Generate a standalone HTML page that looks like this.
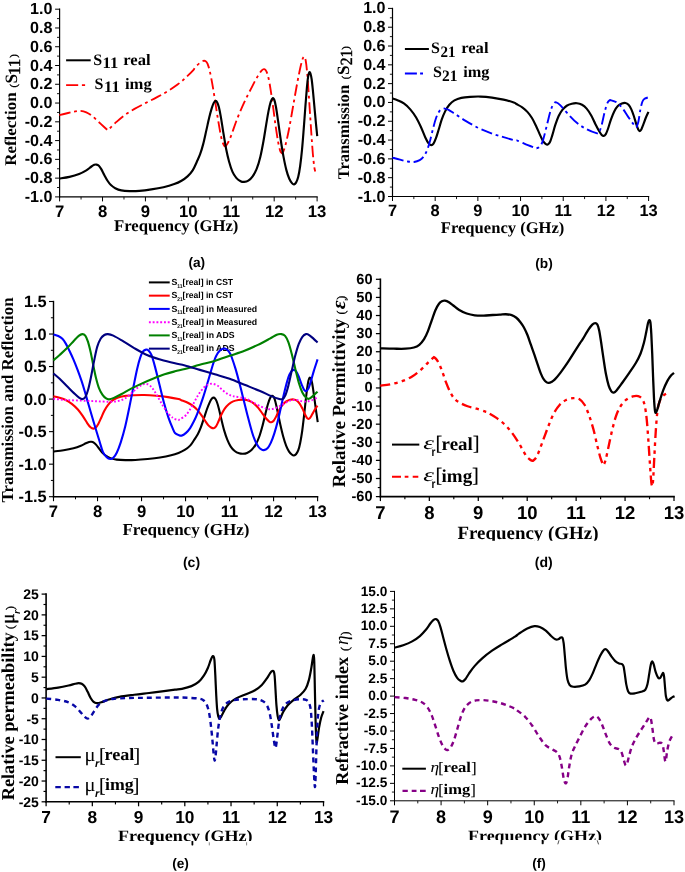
<!DOCTYPE html>
<html><head><meta charset="utf-8"><title>Figure</title>
<style>html,body{margin:0;padding:0;background:#fff}svg{display:block;text-rendering:geometricPrecision;-webkit-font-smoothing:antialiased;will-change:transform}</style></head><body>
<svg width="685" height="872" viewBox="0 0 685 872">
<rect width="685" height="872" fill="#fff"/>
<line x1="59.6" y1="8.6" x2="59.6" y2="197.5" stroke="#000" stroke-width="1.2"/>
<line x1="59" y1="196.9" x2="317.7" y2="196.9" stroke="#000" stroke-width="1.2"/>
<line x1="55.1" y1="9.2" x2="59.6" y2="9.2" stroke="#000" stroke-width="1"/>
<text x="52.4" y="14.2" font-family='"Liberation Sans", sans-serif' font-size="16.1" font-weight="bold" text-anchor="end">1.0</text>
<line x1="57" y1="18.58" x2="59.6" y2="18.58" stroke="#000" stroke-width="0.9"/>
<line x1="55.1" y1="27.97" x2="59.6" y2="27.97" stroke="#000" stroke-width="1"/>
<text x="52.4" y="32.97" font-family='"Liberation Sans", sans-serif' font-size="16.1" font-weight="bold" text-anchor="end">0.8</text>
<line x1="57" y1="37.35" x2="59.6" y2="37.35" stroke="#000" stroke-width="0.9"/>
<line x1="55.1" y1="46.74" x2="59.6" y2="46.74" stroke="#000" stroke-width="1"/>
<text x="52.4" y="51.74" font-family='"Liberation Sans", sans-serif' font-size="16.1" font-weight="bold" text-anchor="end">0.6</text>
<line x1="57" y1="56.12" x2="59.6" y2="56.12" stroke="#000" stroke-width="0.9"/>
<line x1="55.1" y1="65.51" x2="59.6" y2="65.51" stroke="#000" stroke-width="1"/>
<text x="52.4" y="70.51" font-family='"Liberation Sans", sans-serif' font-size="16.1" font-weight="bold" text-anchor="end">0.4</text>
<line x1="57" y1="74.9" x2="59.6" y2="74.9" stroke="#000" stroke-width="0.9"/>
<line x1="55.1" y1="84.28" x2="59.6" y2="84.28" stroke="#000" stroke-width="1"/>
<text x="52.4" y="89.28" font-family='"Liberation Sans", sans-serif' font-size="16.1" font-weight="bold" text-anchor="end">0.2</text>
<line x1="57" y1="93.67" x2="59.6" y2="93.67" stroke="#000" stroke-width="0.9"/>
<line x1="55.1" y1="103.05" x2="59.6" y2="103.05" stroke="#000" stroke-width="1"/>
<text x="52.4" y="108.05" font-family='"Liberation Sans", sans-serif' font-size="16.1" font-weight="bold" text-anchor="end">0.0</text>
<line x1="57" y1="112.44" x2="59.6" y2="112.44" stroke="#000" stroke-width="0.9"/>
<line x1="55.1" y1="121.82" x2="59.6" y2="121.82" stroke="#000" stroke-width="1"/>
<text x="52.4" y="126.82" font-family='"Liberation Sans", sans-serif' font-size="16.1" font-weight="bold" text-anchor="end">-0.2</text>
<line x1="57" y1="131.21" x2="59.6" y2="131.21" stroke="#000" stroke-width="0.9"/>
<line x1="55.1" y1="140.59" x2="59.6" y2="140.59" stroke="#000" stroke-width="1"/>
<text x="52.4" y="145.59" font-family='"Liberation Sans", sans-serif' font-size="16.1" font-weight="bold" text-anchor="end">-0.4</text>
<line x1="57" y1="149.97" x2="59.6" y2="149.97" stroke="#000" stroke-width="0.9"/>
<line x1="55.1" y1="159.36" x2="59.6" y2="159.36" stroke="#000" stroke-width="1"/>
<text x="52.4" y="164.36" font-family='"Liberation Sans", sans-serif' font-size="16.1" font-weight="bold" text-anchor="end">-0.6</text>
<line x1="57" y1="168.75" x2="59.6" y2="168.75" stroke="#000" stroke-width="0.9"/>
<line x1="55.1" y1="178.13" x2="59.6" y2="178.13" stroke="#000" stroke-width="1"/>
<text x="52.4" y="183.13" font-family='"Liberation Sans", sans-serif' font-size="16.1" font-weight="bold" text-anchor="end">-0.8</text>
<line x1="57" y1="187.51" x2="59.6" y2="187.51" stroke="#000" stroke-width="0.9"/>
<line x1="55.1" y1="196.9" x2="59.6" y2="196.9" stroke="#000" stroke-width="1"/>
<text x="52.4" y="201.9" font-family='"Liberation Sans", sans-serif' font-size="16.1" font-weight="bold" text-anchor="end">-1.0</text>
<line x1="59.6" y1="196.9" x2="59.6" y2="201.4" stroke="#000" stroke-width="1"/>
<text x="59.6" y="216.9" font-family='"Liberation Sans", sans-serif' font-size="16.7" font-weight="bold" text-anchor="middle">7</text>
<line x1="81.06" y1="196.9" x2="81.06" y2="199.5" stroke="#000" stroke-width="0.9"/>
<line x1="102.52" y1="196.9" x2="102.52" y2="201.4" stroke="#000" stroke-width="1"/>
<text x="102.52" y="216.9" font-family='"Liberation Sans", sans-serif' font-size="16.7" font-weight="bold" text-anchor="middle">8</text>
<line x1="123.97" y1="196.9" x2="123.97" y2="199.5" stroke="#000" stroke-width="0.9"/>
<line x1="145.43" y1="196.9" x2="145.43" y2="201.4" stroke="#000" stroke-width="1"/>
<text x="145.43" y="216.9" font-family='"Liberation Sans", sans-serif' font-size="16.7" font-weight="bold" text-anchor="middle">9</text>
<line x1="166.89" y1="196.9" x2="166.89" y2="199.5" stroke="#000" stroke-width="0.9"/>
<line x1="188.35" y1="196.9" x2="188.35" y2="201.4" stroke="#000" stroke-width="1"/>
<text x="188.35" y="216.9" font-family='"Liberation Sans", sans-serif' font-size="16.7" font-weight="bold" text-anchor="middle">10</text>
<line x1="209.81" y1="196.9" x2="209.81" y2="199.5" stroke="#000" stroke-width="0.9"/>
<line x1="231.27" y1="196.9" x2="231.27" y2="201.4" stroke="#000" stroke-width="1"/>
<text x="231.27" y="216.9" font-family='"Liberation Sans", sans-serif' font-size="16.7" font-weight="bold" text-anchor="middle">11</text>
<line x1="252.72" y1="196.9" x2="252.72" y2="199.5" stroke="#000" stroke-width="0.9"/>
<line x1="274.18" y1="196.9" x2="274.18" y2="201.4" stroke="#000" stroke-width="1"/>
<text x="274.18" y="216.9" font-family='"Liberation Sans", sans-serif' font-size="16.7" font-weight="bold" text-anchor="middle">12</text>
<line x1="295.64" y1="196.9" x2="295.64" y2="199.5" stroke="#000" stroke-width="0.9"/>
<line x1="317.1" y1="196.9" x2="317.1" y2="201.4" stroke="#000" stroke-width="1"/>
<text x="317.1" y="216.9" font-family='"Liberation Sans", sans-serif' font-size="16.7" font-weight="bold" text-anchor="middle">13</text>
<path d="M59.34 115.18C60.62 114.86 64.56 113.86 67.05 113.25C69.54 112.65 72.07 111.97 74.28 111.57C76.49 111.16 78.29 110.72 80.3 110.84C82.31 110.96 84.32 111.41 86.33 112.29C88.33 113.17 90.34 114.58 92.35 116.14C94.36 117.71 96.37 119.84 98.37 121.69C100.38 123.53 102.87 125.82 104.4 127.23C105.92 128.63 107.01 129.64 107.53 130.12C108.01 129.72 108.94 129.08 110.42 127.71C111.91 126.35 114.04 124.06 116.45 121.93C118.86 119.8 121.87 117.11 124.88 114.94C127.89 112.77 131.1 110.88 134.52 108.92C137.93 106.95 141.75 105.02 145.36 103.13C148.98 101.24 152.59 99.52 156.2 97.59C159.82 95.66 163.43 93.78 167.05 91.57C170.66 89.36 174.68 86.75 177.89 84.34C181.1 81.93 183.71 79.52 186.33 77.11C188.94 74.7 192.14 71.49 193.55 69.88C194.97 68.27 193.81 68.59 194.82 67.47C195.83 66.35 198.23 64.22 199.64 63.13C201.04 62.05 202.25 61.29 203.25 60.96C204.26 60.64 204.94 60.72 205.66 61.2C206.39 61.69 206.91 62.21 207.59 63.86C208.27 65.5 209 67.87 209.76 71.08C210.52 74.3 211.37 78.71 212.17 83.13C212.97 87.55 213.78 92.57 214.58 97.59C215.38 102.61 216.18 108.23 216.99 113.25C217.79 118.27 218.59 123.29 219.4 127.71C220.2 132.13 221 136.75 221.81 139.76C222.61 142.77 223.57 144.7 224.22 145.78C224.86 146.87 225.42 146.18 225.66 146.27C225.98 145.78 226.71 145.06 227.59 143.37C228.47 141.69 229.4 140.16 230.96 136.14C232.53 132.13 234.78 124.9 236.99 119.28C239.2 113.65 241.81 107.63 244.22 102.41C246.63 97.19 249.24 92.25 251.45 87.95C253.65 83.65 255.74 79.56 257.47 76.63C259.2 73.69 260.68 71.61 261.81 70.36C262.93 69.12 263.45 69 264.22 69.16C264.98 69.32 265.66 69.8 266.39 71.33C267.11 72.85 267.83 75.14 268.55 78.31C269.28 81.49 269.96 85.54 270.72 90.36C271.49 95.18 272.33 101.41 273.13 107.23C273.94 113.05 274.74 119.68 275.54 125.3C276.35 130.92 277.19 136.75 277.95 140.96C278.71 145.18 279.48 148.55 280.12 150.6C280.76 152.65 281.53 152.81 281.81 153.25C282.09 152.89 282.81 152.73 283.49 151.08C284.18 149.44 284.94 147.27 285.9 143.37C286.87 139.48 288.07 133.94 289.28 127.71C290.48 121.49 291.85 113.25 293.13 106.02C294.42 98.8 295.78 90.76 296.99 84.34C298.19 77.91 299.4 71.77 300.36 67.47C301.33 63.17 302.13 60.36 302.77 58.55C303.41 56.75 303.98 56.95 304.22 56.63C304.46 57.23 305.18 57.63 305.66 60.24C306.14 62.85 306.63 67.07 307.11 72.29C307.59 77.51 308.07 84.74 308.55 91.57C309.04 98.39 309.52 106.02 310 113.25C310.48 120.48 310.96 128.11 311.45 134.94C311.93 141.77 312.41 148.8 312.89 154.22C313.37 159.64 313.94 164.58 314.34 167.47C314.74 170.36 315.14 170.88 315.3 171.57" fill="none" stroke="#ff0000" stroke-width="1.85" stroke-linejoin="round" stroke-dasharray="11.4 3.7 2.8 3.8"/>
<path d="M59.34 178.55C61.02 178.27 66.16 177.63 69.46 176.87C72.75 176.1 76.29 175.06 79.1 173.98C81.91 172.89 84.32 171.57 86.33 170.36C88.33 169.16 89.82 167.67 91.14 166.75C92.47 165.82 93.39 165.18 94.28 164.82C95.16 164.46 95.68 164.42 96.45 164.58C97.21 164.74 98.05 165.02 98.86 165.78C99.66 166.55 100.34 167.59 101.27 169.16C102.19 170.72 103.35 173.25 104.4 175.18C105.44 177.11 106.45 179.08 107.53 180.72C108.61 182.37 109.62 183.82 110.9 185.06C112.19 186.31 113.51 187.31 115.24 188.19C116.97 189.08 118.86 189.88 121.27 190.36C123.67 190.84 126.69 191 129.7 191.08C132.71 191.16 135.72 191.12 139.34 190.84C142.95 190.56 147.37 190 151.39 189.4C155.4 188.8 159.62 188.11 163.43 187.23C167.25 186.35 171.27 185.18 174.28 184.1C177.29 183.01 179.3 182.01 181.51 180.72C183.71 179.44 185.64 178.15 187.53 176.39C189.42 174.62 191.3 172.53 192.83 170.12C194.37 167.71 195.53 164.58 196.75 161.93C197.96 159.28 199.04 157.23 200.12 154.22C201.2 151.2 202.21 147.87 203.25 143.86C204.3 139.84 205.38 134.54 206.39 130.12C207.39 125.7 208.39 120.96 209.28 117.35C210.16 113.73 210.96 110.8 211.69 108.43C212.41 106.06 212.97 104.38 213.61 103.13C214.26 101.89 214.94 101.08 215.54 100.96C216.14 100.84 216.67 101.37 217.23 102.41C217.79 103.45 218.31 104.82 218.92 107.23C219.52 109.64 220.12 112.73 220.84 116.87C221.57 121 222.37 126.71 223.25 132.05C224.14 137.39 225.18 144.02 226.14 148.92C227.11 153.82 227.99 157.67 229.04 161.45C230.08 165.22 231.2 168.84 232.41 171.57C233.61 174.3 234.9 176.22 236.27 177.83C237.63 179.44 239.28 180.52 240.6 181.2C241.93 181.89 242.93 182.01 244.22 181.93C245.5 181.85 246.91 181.65 248.31 180.72C249.72 179.8 251.24 178.39 252.65 176.39C254.06 174.38 255.46 171.97 256.75 168.67C258.03 165.38 259.24 161.24 260.36 156.63C261.49 152.01 262.53 146.27 263.49 140.96C264.46 135.66 265.3 129.84 266.14 124.82C266.99 119.8 267.79 114.66 268.55 110.84C269.32 107.03 270.04 104.02 270.72 101.93C271.41 99.84 272.05 98.63 272.65 98.31C273.25 97.99 273.78 98.51 274.34 100C274.9 101.49 275.38 103.61 276.02 107.23C276.67 110.84 277.39 116.14 278.19 121.69C279 127.23 279.96 134.66 280.84 140.48C281.73 146.31 282.57 151.69 283.49 156.63C284.42 161.57 285.42 166.43 286.39 170.12C287.35 173.82 288.31 176.59 289.28 178.8C290.24 181 291.37 182.45 292.17 183.37C292.97 184.3 293.45 184.46 294.1 184.34C294.74 184.22 295.34 183.86 296.02 182.65C296.71 181.45 297.51 179.84 298.19 177.11C298.88 174.38 299.48 170.88 300.12 166.27C300.76 161.65 301.45 155.62 302.05 149.4C302.65 143.17 303.17 136.14 303.73 128.92C304.3 121.69 304.9 112.85 305.42 106.02C305.94 99.2 306.43 92.77 306.87 87.95C307.31 83.13 307.67 79.72 308.07 77.11C308.47 74.5 308.88 72.89 309.28 72.29C309.68 71.69 310.08 72.29 310.48 73.49C310.88 74.7 311.29 76.71 311.69 79.52C312.09 82.33 312.45 85.94 312.89 90.36C313.33 94.78 313.86 100.8 314.34 106.02C314.82 111.24 315.3 116.67 315.78 121.69C316.27 126.71 316.99 133.73 317.23 136.14" fill="none" stroke="#000" stroke-width="2.15" stroke-linejoin="round"/>
<g transform="translate(16.1 165.8) rotate(-90)">
<text x="0" y="0" font-family='"Liberation Serif", serif' font-size="16.3" font-weight="bold" textLength="73.4" lengthAdjust="spacingAndGlyphs">Reflection</text>
<text x="78.4" y="0.5" font-family='"Liberation Serif", serif' font-size="10.5" font-weight="normal" stroke="#000" stroke-width="0.3">(</text>
<text x="82.2" y="0.5" font-family='"Liberation Serif", serif' font-size="17.3" font-weight="bold">S</text>
<text x="90.8" y="3.7" font-family='"Liberation Serif", serif' font-size="17" font-weight="normal" stroke="#000" stroke-width="0.4">11</text>
<text x="108" y="0.5" font-family='"Liberation Serif", serif' font-size="10.5" font-weight="normal" stroke="#000" stroke-width="0.3">)</text>
</g>
<text x="176.2" y="231.4" font-family='"Liberation Serif", serif' font-size="16.3" font-weight="bold" text-anchor="middle" textLength="124.5" lengthAdjust="spacingAndGlyphs">Frequency (GHz)</text>
<text x="196.8" y="267.1" font-family='"Liberation Sans", sans-serif' font-size="13.7" font-weight="bold" text-anchor="middle">(a)</text>
<line x1="66.1" y1="60.3" x2="90.7" y2="60.3" stroke="#000" stroke-width="2"/>
<text x="93.2" y="64.7" font-family='"Liberation Serif", serif' font-size="16" font-weight="bold">S</text>
<text x="102.6" y="68.1" font-family='"Liberation Serif", serif' font-size="16" font-weight="bold" textLength="15.6" lengthAdjust="spacingAndGlyphs">11</text>
<text x="123.3" y="64.7" font-family='"Liberation Serif", serif' font-size="16" font-weight="bold" textLength="27.3" lengthAdjust="spacingAndGlyphs">real</text>
<path d="M66.1 85.1H78.2M81.9 85.1H85.1" stroke="#ff0000" stroke-width="1.9" fill="none"/>
<text x="94.6" y="89.1" font-family='"Liberation Serif", serif' font-size="16" font-weight="bold">S</text>
<text x="104.1" y="92.4" font-family='"Liberation Serif", serif' font-size="16" font-weight="bold" textLength="15.6" lengthAdjust="spacingAndGlyphs">11</text>
<text x="125" y="89.1" font-family='"Liberation Serif", serif' font-size="16" font-weight="bold" textLength="26.8" lengthAdjust="spacingAndGlyphs">img</text>
<line x1="392.5" y1="7.8" x2="392.5" y2="197.1" stroke="#000" stroke-width="1.2"/>
<line x1="391.9" y1="196.5" x2="649.2" y2="196.5" stroke="#000" stroke-width="1.2"/>
<line x1="388" y1="8.4" x2="392.5" y2="8.4" stroke="#000" stroke-width="1"/>
<text x="385.5" y="13.4" font-family='"Liberation Sans", sans-serif' font-size="16.1" font-weight="bold" text-anchor="end">1.0</text>
<line x1="389.9" y1="17.8" x2="392.5" y2="17.8" stroke="#000" stroke-width="0.9"/>
<line x1="388" y1="27.21" x2="392.5" y2="27.21" stroke="#000" stroke-width="1"/>
<text x="385.5" y="32.21" font-family='"Liberation Sans", sans-serif' font-size="16.1" font-weight="bold" text-anchor="end">0.8</text>
<line x1="389.9" y1="36.61" x2="392.5" y2="36.61" stroke="#000" stroke-width="0.9"/>
<line x1="388" y1="46.02" x2="392.5" y2="46.02" stroke="#000" stroke-width="1"/>
<text x="385.5" y="51.02" font-family='"Liberation Sans", sans-serif' font-size="16.1" font-weight="bold" text-anchor="end">0.6</text>
<line x1="389.9" y1="55.42" x2="392.5" y2="55.42" stroke="#000" stroke-width="0.9"/>
<line x1="388" y1="64.83" x2="392.5" y2="64.83" stroke="#000" stroke-width="1"/>
<text x="385.5" y="69.83" font-family='"Liberation Sans", sans-serif' font-size="16.1" font-weight="bold" text-anchor="end">0.4</text>
<line x1="389.9" y1="74.24" x2="392.5" y2="74.24" stroke="#000" stroke-width="0.9"/>
<line x1="388" y1="83.64" x2="392.5" y2="83.64" stroke="#000" stroke-width="1"/>
<text x="385.5" y="88.64" font-family='"Liberation Sans", sans-serif' font-size="16.1" font-weight="bold" text-anchor="end">0.2</text>
<line x1="389.9" y1="93.05" x2="392.5" y2="93.05" stroke="#000" stroke-width="0.9"/>
<line x1="388" y1="102.45" x2="392.5" y2="102.45" stroke="#000" stroke-width="1"/>
<text x="385.5" y="107.45" font-family='"Liberation Sans", sans-serif' font-size="16.1" font-weight="bold" text-anchor="end">0.0</text>
<line x1="389.9" y1="111.86" x2="392.5" y2="111.86" stroke="#000" stroke-width="0.9"/>
<line x1="388" y1="121.26" x2="392.5" y2="121.26" stroke="#000" stroke-width="1"/>
<text x="385.5" y="126.26" font-family='"Liberation Sans", sans-serif' font-size="16.1" font-weight="bold" text-anchor="end">-0.2</text>
<line x1="389.9" y1="130.67" x2="392.5" y2="130.67" stroke="#000" stroke-width="0.9"/>
<line x1="388" y1="140.07" x2="392.5" y2="140.07" stroke="#000" stroke-width="1"/>
<text x="385.5" y="145.07" font-family='"Liberation Sans", sans-serif' font-size="16.1" font-weight="bold" text-anchor="end">-0.4</text>
<line x1="389.9" y1="149.47" x2="392.5" y2="149.47" stroke="#000" stroke-width="0.9"/>
<line x1="388" y1="158.88" x2="392.5" y2="158.88" stroke="#000" stroke-width="1"/>
<text x="385.5" y="163.88" font-family='"Liberation Sans", sans-serif' font-size="16.1" font-weight="bold" text-anchor="end">-0.6</text>
<line x1="389.9" y1="168.29" x2="392.5" y2="168.29" stroke="#000" stroke-width="0.9"/>
<line x1="388" y1="177.69" x2="392.5" y2="177.69" stroke="#000" stroke-width="1"/>
<text x="385.5" y="182.69" font-family='"Liberation Sans", sans-serif' font-size="16.1" font-weight="bold" text-anchor="end">-0.8</text>
<line x1="389.9" y1="187.09" x2="392.5" y2="187.09" stroke="#000" stroke-width="0.9"/>
<line x1="388" y1="196.5" x2="392.5" y2="196.5" stroke="#000" stroke-width="1"/>
<text x="385.5" y="201.5" font-family='"Liberation Sans", sans-serif' font-size="16.1" font-weight="bold" text-anchor="end">-1.0</text>
<line x1="392.5" y1="196.5" x2="392.5" y2="201" stroke="#000" stroke-width="1"/>
<text x="392.5" y="216" font-family='"Liberation Sans", sans-serif' font-size="16.4" font-weight="bold" text-anchor="middle">7</text>
<line x1="413.84" y1="196.5" x2="413.84" y2="199.1" stroke="#000" stroke-width="0.9"/>
<line x1="435.18" y1="196.5" x2="435.18" y2="201" stroke="#000" stroke-width="1"/>
<text x="435.18" y="216" font-family='"Liberation Sans", sans-serif' font-size="16.4" font-weight="bold" text-anchor="middle">8</text>
<line x1="456.52" y1="196.5" x2="456.52" y2="199.1" stroke="#000" stroke-width="0.9"/>
<line x1="477.87" y1="196.5" x2="477.87" y2="201" stroke="#000" stroke-width="1"/>
<text x="477.87" y="216" font-family='"Liberation Sans", sans-serif' font-size="16.4" font-weight="bold" text-anchor="middle">9</text>
<line x1="499.21" y1="196.5" x2="499.21" y2="199.1" stroke="#000" stroke-width="0.9"/>
<line x1="520.55" y1="196.5" x2="520.55" y2="201" stroke="#000" stroke-width="1"/>
<text x="520.55" y="216" font-family='"Liberation Sans", sans-serif' font-size="16.4" font-weight="bold" text-anchor="middle">10</text>
<line x1="541.89" y1="196.5" x2="541.89" y2="199.1" stroke="#000" stroke-width="0.9"/>
<line x1="563.23" y1="196.5" x2="563.23" y2="201" stroke="#000" stroke-width="1"/>
<text x="563.23" y="216" font-family='"Liberation Sans", sans-serif' font-size="16.4" font-weight="bold" text-anchor="middle">11</text>
<line x1="584.58" y1="196.5" x2="584.58" y2="199.1" stroke="#000" stroke-width="0.9"/>
<line x1="605.92" y1="196.5" x2="605.92" y2="201" stroke="#000" stroke-width="1"/>
<text x="605.92" y="216" font-family='"Liberation Sans", sans-serif' font-size="16.4" font-weight="bold" text-anchor="middle">12</text>
<line x1="627.26" y1="196.5" x2="627.26" y2="199.1" stroke="#000" stroke-width="0.9"/>
<line x1="648.6" y1="196.5" x2="648.6" y2="201" stroke="#000" stroke-width="1"/>
<text x="648.6" y="216" font-family='"Liberation Sans", sans-serif' font-size="16.4" font-weight="bold" text-anchor="middle">13</text>
<path d="M392.37 98.36C393.22 98.66 395.57 99.29 397.48 100.15C399.4 101 401.74 101.93 403.87 103.47C406 105 408.21 107 410.26 109.34C412.3 111.68 414.3 114.45 416.13 117.52C417.96 120.58 419.71 124.42 421.24 127.74C422.77 131.06 424.14 134.89 425.33 137.45C426.52 140 427.41 141.79 428.39 143.07C429.37 144.34 430.35 145.02 431.2 145.11C432.06 145.19 432.69 144.77 433.5 143.58C434.31 142.38 435.16 140.38 436.06 137.96C436.95 135.53 437.93 132.08 438.87 129.01C439.81 125.95 440.61 122.54 441.68 119.56C442.74 116.58 443.98 113.6 445.26 111.13C446.53 108.66 447.81 106.53 449.34 104.74C450.88 102.96 452.45 101.55 454.45 100.4C456.45 99.25 458.71 98.44 461.35 97.85C463.99 97.25 467.1 97.04 470.29 96.82C473.49 96.61 476.89 96.44 480.51 96.57C484.13 96.7 488.18 97.08 492.01 97.59C495.84 98.1 499.88 98.83 503.5 99.64C507.12 100.44 511.58 101.72 513.72 102.45C515.87 103.17 514.96 103.17 516.39 103.98C517.81 104.79 520.43 105.98 522.26 107.3C524.09 108.62 525.75 110.11 527.37 111.9C528.99 113.69 530.52 115.69 531.97 118.03C533.42 120.37 534.78 123.27 536.06 125.95C537.34 128.63 538.53 131.7 539.64 134.12C540.74 136.55 541.76 138.94 542.7 140.51C543.64 142.09 544.4 142.9 545.26 143.58C546.11 144.26 547 144.9 547.81 144.6C548.62 144.3 549.34 143.41 550.11 141.79C550.88 140.17 551.56 137.66 552.41 134.89C553.26 132.12 554.2 128.29 555.22 125.18C556.24 122.07 557.35 118.8 558.54 116.24C559.73 113.69 561.01 111.6 562.37 109.85C563.73 108.11 565.14 106.79 566.72 105.77C568.29 104.74 570.12 104.15 571.82 103.72C573.53 103.3 575.23 103.04 576.93 103.21C578.64 103.38 580.43 103.85 582.04 104.74C583.66 105.64 585.11 106.79 586.64 108.58C588.18 110.36 589.79 112.92 591.24 115.47C592.69 118.03 594.05 121.35 595.33 123.91C596.61 126.46 597.84 128.97 598.91 130.8C599.97 132.63 600.91 134.04 601.72 134.89C602.52 135.74 603.08 136.04 603.76 135.91C604.44 135.78 605.08 135.36 605.8 134.12C606.53 132.89 607.25 130.93 608.1 128.5C608.95 126.08 609.89 122.41 610.91 119.56C611.93 116.71 613.08 113.64 614.23 111.39C615.38 109.13 616.53 107.34 617.81 106.02C619.09 104.7 620.62 103.98 621.9 103.47C623.18 102.96 624.37 102.74 625.47 102.96C626.58 103.17 627.56 103.68 628.54 104.74C629.52 105.81 630.46 107.43 631.35 109.34C632.24 111.26 633.1 113.81 633.91 116.24C634.71 118.67 635.48 121.69 636.2 123.91C636.93 126.12 637.65 128.33 638.25 129.53C638.84 130.72 639.27 131.06 639.78 131.06C640.29 131.06 640.72 130.63 641.31 129.53C641.91 128.42 642.59 126.42 643.36 124.42C644.12 122.41 645.06 119.6 645.91 117.52C646.76 115.43 648.04 112.83 648.47 111.9" fill="none" stroke="#000" stroke-width="2.15" stroke-linejoin="round"/>
<path d="M392.37 157.63C393.65 157.97 397.48 159.03 400.04 159.67C402.59 160.31 405.36 161.08 407.7 161.46C410.04 161.84 412.09 162.18 414.09 161.97C416.09 161.76 418.09 161.12 419.71 160.18C421.33 159.25 422.52 158.14 423.8 156.35C425.07 154.56 426.27 152.31 427.37 149.45C428.48 146.6 429.46 142.85 430.44 139.23C431.42 135.61 432.31 131.27 433.25 127.74C434.18 124.2 435.12 120.67 436.06 118.03C437 115.39 437.93 113.35 438.87 111.9C439.81 110.45 440.7 109.9 441.68 109.34C442.66 108.79 443.59 108.49 444.74 108.58C445.89 108.66 446.87 108.96 448.58 109.85C450.28 110.75 452.2 112.15 454.96 113.94C457.73 115.73 461.35 118.28 465.18 120.58C469.01 122.88 473.7 125.65 477.96 127.74C482.21 129.82 486.47 131.53 490.73 133.1C494.99 134.68 499.46 135.95 503.5 137.19C507.55 138.42 512.58 139.91 515 140.51C517.42 141.11 515.86 140.03 518 140.8C520.14 141.57 524.73 143.89 527.85 145.14C530.97 146.39 535.24 147.77 536.72 148.29C537.31 147.93 539.19 147.6 540.27 146.12C541.35 144.65 542.08 143.1 543.23 139.42C544.38 135.74 545.92 128.91 547.17 124.05C548.42 119.19 549.6 113.67 550.72 110.26C551.83 106.84 552.95 104.87 553.87 103.55C554.79 102.24 555.18 102.11 556.23 102.37C557.28 102.64 558.34 103.32 560.18 105.13C562.01 106.94 564.45 110.22 567.27 113.21C570.09 116.2 573.84 120.37 577.12 123.07C580.41 125.76 583.76 127.7 586.98 129.37C590.2 131.05 594.43 132.53 596.44 133.12C598.44 133.71 598.57 132.95 599 132.92C599.43 131.67 600.64 128.81 601.56 125.43C602.48 122.05 603.53 116.4 604.52 112.62C605.5 108.84 606.55 104.87 607.47 102.77C608.39 100.66 609.61 100.47 610.04 100.01C611.12 100.4 614.47 100.99 616.54 102.37C618.61 103.75 620.48 105.82 622.45 108.28C624.42 110.75 626.46 114.43 628.36 117.15C630.27 119.88 632.5 123 633.88 124.64C635.26 126.28 636.18 126.61 636.64 127.01C636.94 126.09 637.79 124.38 638.42 121.49C639.04 118.6 639.73 112.95 640.39 109.66C641.04 106.38 641.67 103.59 642.36 101.78C643.05 99.97 643.41 99.61 644.53 98.82C645.64 98.04 648.3 97.35 649.06 97.05" fill="none" stroke="#0000ff" stroke-width="1.9" stroke-linejoin="round" stroke-dasharray="11.4 3.7 2.8 3.8"/>
<g transform="translate(348.7 179.3) rotate(-90)">
<text x="0" y="0" font-family='"Liberation Serif", serif' font-size="16.3" font-weight="bold" textLength="94.4" lengthAdjust="spacingAndGlyphs">Transmission</text>
<text x="100" y="0.5" font-family='"Liberation Serif", serif' font-size="10.5" font-weight="normal" stroke="#000" stroke-width="0.3">(</text>
<text x="104.2" y="0.5" font-family='"Liberation Serif", serif' font-size="17.3" font-weight="bold">S</text>
<text x="114" y="3.7" font-family='"Liberation Serif", serif' font-size="17" font-weight="normal" textLength="15.6" lengthAdjust="spacingAndGlyphs" stroke="#000" stroke-width="0.4">21</text>
<text x="129.6" y="0.5" font-family='"Liberation Serif", serif' font-size="10.5" font-weight="normal" stroke="#000" stroke-width="0.3">)</text>
</g>
<text x="502.6" y="232.9" font-family='"Liberation Serif", serif' font-size="16.3" font-weight="bold" text-anchor="middle" textLength="123.6" lengthAdjust="spacingAndGlyphs">Frequency (GHz)</text>
<text x="544" y="268" font-family='"Liberation Sans", sans-serif' font-size="13.7" font-weight="bold" text-anchor="middle">(b)</text>
<line x1="404.9" y1="49" x2="428.9" y2="49" stroke="#000" stroke-width="2"/>
<text x="431.1" y="53.1" font-family='"Liberation Serif", serif' font-size="16" font-weight="bold">S</text>
<text x="440.6" y="56.6" font-family='"Liberation Serif", serif' font-size="16" font-weight="bold" textLength="15" lengthAdjust="spacingAndGlyphs">21</text>
<text x="461.2" y="53.1" font-family='"Liberation Serif", serif' font-size="16" font-weight="bold" textLength="27.3" lengthAdjust="spacingAndGlyphs">real</text>
<path d="M404.9 73.5H416.9M420.1 73.5H423" stroke="#0000ff" stroke-width="1.9" fill="none"/>
<text x="433" y="77.4" font-family='"Liberation Serif", serif' font-size="16" font-weight="bold">S</text>
<text x="442" y="81.1" font-family='"Liberation Serif", serif' font-size="16" font-weight="bold" textLength="15.4" lengthAdjust="spacingAndGlyphs">21</text>
<text x="463.3" y="77.4" font-family='"Liberation Serif", serif' font-size="16" font-weight="bold" textLength="26.2" lengthAdjust="spacingAndGlyphs">img</text>
<line x1="53.5" y1="300.8" x2="53.5" y2="497.4" stroke="#000" stroke-width="1.4"/>
<line x1="52.8" y1="496.7" x2="318.3" y2="496.7" stroke="#000" stroke-width="1.4"/>
<line x1="49" y1="301.5" x2="53.5" y2="301.5" stroke="#000" stroke-width="1.1"/>
<text x="46.7" y="307.1" font-family='"Liberation Sans", sans-serif' font-size="16.4" font-weight="bold" text-anchor="end">1.5</text>
<line x1="50.9" y1="317.77" x2="53.5" y2="317.77" stroke="#000" stroke-width="1"/>
<line x1="49" y1="334.03" x2="53.5" y2="334.03" stroke="#000" stroke-width="1.1"/>
<text x="46.7" y="339.64" font-family='"Liberation Sans", sans-serif' font-size="16.4" font-weight="bold" text-anchor="end">1.0</text>
<line x1="50.9" y1="350.3" x2="53.5" y2="350.3" stroke="#000" stroke-width="1"/>
<line x1="49" y1="366.57" x2="53.5" y2="366.57" stroke="#000" stroke-width="1.1"/>
<text x="46.7" y="372.17" font-family='"Liberation Sans", sans-serif' font-size="16.4" font-weight="bold" text-anchor="end">0.5</text>
<line x1="50.9" y1="382.83" x2="53.5" y2="382.83" stroke="#000" stroke-width="1"/>
<line x1="49" y1="399.1" x2="53.5" y2="399.1" stroke="#000" stroke-width="1.1"/>
<text x="46.7" y="404.7" font-family='"Liberation Sans", sans-serif' font-size="16.4" font-weight="bold" text-anchor="end">0.0</text>
<line x1="50.9" y1="415.37" x2="53.5" y2="415.37" stroke="#000" stroke-width="1"/>
<line x1="49" y1="431.63" x2="53.5" y2="431.63" stroke="#000" stroke-width="1.1"/>
<text x="46.7" y="437.24" font-family='"Liberation Sans", sans-serif' font-size="16.4" font-weight="bold" text-anchor="end">-0.5</text>
<line x1="50.9" y1="447.9" x2="53.5" y2="447.9" stroke="#000" stroke-width="1"/>
<line x1="49" y1="464.17" x2="53.5" y2="464.17" stroke="#000" stroke-width="1.1"/>
<text x="46.7" y="469.77" font-family='"Liberation Sans", sans-serif' font-size="16.4" font-weight="bold" text-anchor="end">-1.0</text>
<line x1="50.9" y1="480.43" x2="53.5" y2="480.43" stroke="#000" stroke-width="1"/>
<line x1="49" y1="496.7" x2="53.5" y2="496.7" stroke="#000" stroke-width="1.1"/>
<text x="46.7" y="502.3" font-family='"Liberation Sans", sans-serif' font-size="16.4" font-weight="bold" text-anchor="end">-1.5</text>
<line x1="53.5" y1="496.7" x2="53.5" y2="501.2" stroke="#000" stroke-width="1.1"/>
<text x="53.5" y="516.8" font-family='"Liberation Sans", sans-serif' font-size="16.7" font-weight="bold" text-anchor="middle">7</text>
<line x1="75.51" y1="496.7" x2="75.51" y2="499.3" stroke="#000" stroke-width="1"/>
<line x1="97.52" y1="496.7" x2="97.52" y2="501.2" stroke="#000" stroke-width="1.1"/>
<text x="97.52" y="516.8" font-family='"Liberation Sans", sans-serif' font-size="16.7" font-weight="bold" text-anchor="middle">8</text>
<line x1="119.53" y1="496.7" x2="119.53" y2="499.3" stroke="#000" stroke-width="1"/>
<line x1="141.53" y1="496.7" x2="141.53" y2="501.2" stroke="#000" stroke-width="1.1"/>
<text x="141.53" y="516.8" font-family='"Liberation Sans", sans-serif' font-size="16.7" font-weight="bold" text-anchor="middle">9</text>
<line x1="163.54" y1="496.7" x2="163.54" y2="499.3" stroke="#000" stroke-width="1"/>
<line x1="185.55" y1="496.7" x2="185.55" y2="501.2" stroke="#000" stroke-width="1.1"/>
<text x="185.55" y="516.8" font-family='"Liberation Sans", sans-serif' font-size="16.7" font-weight="bold" text-anchor="middle">10</text>
<line x1="207.56" y1="496.7" x2="207.56" y2="499.3" stroke="#000" stroke-width="1"/>
<line x1="229.57" y1="496.7" x2="229.57" y2="501.2" stroke="#000" stroke-width="1.1"/>
<text x="229.57" y="516.8" font-family='"Liberation Sans", sans-serif' font-size="16.7" font-weight="bold" text-anchor="middle">11</text>
<line x1="251.58" y1="496.7" x2="251.58" y2="499.3" stroke="#000" stroke-width="1"/>
<line x1="273.58" y1="496.7" x2="273.58" y2="501.2" stroke="#000" stroke-width="1.1"/>
<text x="273.58" y="516.8" font-family='"Liberation Sans", sans-serif' font-size="16.7" font-weight="bold" text-anchor="middle">12</text>
<line x1="295.59" y1="496.7" x2="295.59" y2="499.3" stroke="#000" stroke-width="1"/>
<line x1="317.6" y1="496.7" x2="317.6" y2="501.2" stroke="#000" stroke-width="1.1"/>
<text x="317.6" y="516.8" font-family='"Liberation Sans", sans-serif' font-size="16.7" font-weight="bold" text-anchor="middle">13</text>
<g transform="translate(13.1 502.4) rotate(-90)">
<text x="0" y="0" font-family='"Liberation Serif", serif' font-size="16.7" font-weight="bold" textLength="205" lengthAdjust="spacingAndGlyphs">Transmission and Reflection</text>
</g>
<clipPath id="cc"><rect x="100" y="515" width="180" height="22.7"/></clipPath>
<text x="185.9" y="534.5" font-family='"Liberation Serif", serif' font-size="16.8" font-weight="bold" text-anchor="middle" textLength="127" lengthAdjust="spacingAndGlyphs" clip-path="url(#cc)">Frequency (GHz)</text>
<text x="191.5" y="566.6" font-family='"Liberation Sans", sans-serif' font-size="14" font-weight="bold" text-anchor="middle">(c)</text>
<path d="M148.9 282.4H169.7" stroke="#000" stroke-width="2.0" fill="none"/>
<text x="171.4" y="285.2" font-family='"Liberation Sans", sans-serif' font-size="8.8" font-weight="bold">S</text>
<text x="177.3" y="287.9" font-family='"Liberation Sans", sans-serif' font-size="5.5" font-weight="bold" textLength="5.4" lengthAdjust="spacingAndGlyphs">11</text>
<text x="182.6" y="285.2" font-family='"Liberation Sans", sans-serif' font-size="8.8" font-weight="bold" textLength="50.5" lengthAdjust="spacingAndGlyphs">[real] in CST</text>
<path d="M148.9 295.65H169.7" stroke="#ff0000" stroke-width="2.0" fill="none"/>
<text x="171.4" y="298.45" font-family='"Liberation Sans", sans-serif' font-size="8.8" font-weight="bold">S</text>
<text x="177.3" y="301.15" font-family='"Liberation Sans", sans-serif' font-size="5.5" font-weight="bold" textLength="5.4" lengthAdjust="spacingAndGlyphs">21</text>
<text x="182.6" y="298.45" font-family='"Liberation Sans", sans-serif' font-size="8.8" font-weight="bold" textLength="50.5" lengthAdjust="spacingAndGlyphs">[real] in CST</text>
<path d="M148.9 308.9H169.7" stroke="#0000ff" stroke-width="2.0" fill="none"/>
<text x="171.4" y="311.7" font-family='"Liberation Sans", sans-serif' font-size="8.8" font-weight="bold">S</text>
<text x="177.3" y="314.4" font-family='"Liberation Sans", sans-serif' font-size="5.5" font-weight="bold" textLength="5.4" lengthAdjust="spacingAndGlyphs">11</text>
<text x="182.6" y="311.7" font-family='"Liberation Sans", sans-serif' font-size="8.8" font-weight="bold" textLength="74.6" lengthAdjust="spacingAndGlyphs">[real] in Measured</text>
<path d="M148.9 322.15H169.7" stroke="#ff00ff" stroke-width="2.0" fill="none" stroke-dasharray="1.9 1.87"/>
<text x="171.4" y="324.95" font-family='"Liberation Sans", sans-serif' font-size="8.8" font-weight="bold">S</text>
<text x="177.3" y="327.65" font-family='"Liberation Sans", sans-serif' font-size="5.5" font-weight="bold" textLength="5.4" lengthAdjust="spacingAndGlyphs">21</text>
<text x="182.6" y="324.95" font-family='"Liberation Sans", sans-serif' font-size="8.8" font-weight="bold" textLength="74.6" lengthAdjust="spacingAndGlyphs">[real] in Measured</text>
<path d="M148.9 335.4H169.7" stroke="#008000" stroke-width="2.0" fill="none"/>
<text x="171.4" y="338.2" font-family='"Liberation Sans", sans-serif' font-size="8.8" font-weight="bold">S</text>
<text x="177.3" y="340.9" font-family='"Liberation Sans", sans-serif' font-size="5.5" font-weight="bold" textLength="5.4" lengthAdjust="spacingAndGlyphs">11</text>
<text x="182.6" y="338.2" font-family='"Liberation Sans", sans-serif' font-size="8.8" font-weight="bold" textLength="51.9" lengthAdjust="spacingAndGlyphs">[real] in ADS</text>
<path d="M148.9 348.65H169.7" stroke="#000080" stroke-width="2.0" fill="none"/>
<text x="171.4" y="351.45" font-family='"Liberation Sans", sans-serif' font-size="8.8" font-weight="bold">S</text>
<text x="177.3" y="354.15" font-family='"Liberation Sans", sans-serif' font-size="5.5" font-weight="bold" textLength="5.4" lengthAdjust="spacingAndGlyphs">21</text>
<text x="182.6" y="351.45" font-family='"Liberation Sans", sans-serif' font-size="8.8" font-weight="bold" textLength="51.9" lengthAdjust="spacingAndGlyphs">[real] in ADS</text>
<path d="M53.23 451.45C54.96 451.25 60.23 450.81 63.61 450.28C66.99 449.75 70.61 449.03 73.5 448.27C76.38 447.52 78.85 446.6 80.91 445.77C82.97 444.93 84.49 443.9 85.85 443.26C87.21 442.62 88.16 442.18 89.07 441.92C89.97 441.67 90.51 441.65 91.29 441.76C92.07 441.87 92.94 442.06 93.76 442.59C94.59 443.12 95.29 443.85 96.23 444.93C97.18 446.02 98.37 447.77 99.45 449.11C100.52 450.45 101.55 451.81 102.66 452.95C103.77 454.09 104.8 455.09 106.12 455.96C107.44 456.82 108.8 457.52 110.57 458.13C112.34 458.74 114.27 459.3 116.75 459.63C119.22 459.97 122.31 460.08 125.4 460.13C128.48 460.19 131.57 460.16 135.28 459.97C138.99 459.77 143.52 459.38 147.64 458.97C151.76 458.55 156.08 458.07 160 457.46C163.91 456.85 168.03 456.04 171.12 455.29C174.21 454.54 176.27 453.84 178.53 452.95C180.8 452.06 182.77 451.17 184.71 449.94C186.65 448.72 188.57 447.27 190.15 445.6C191.72 443.93 192.92 441.76 194.16 439.92C195.41 438.08 196.51 436.66 197.62 434.57C198.73 432.49 199.76 430.17 200.83 427.39C201.91 424.61 203.02 420.93 204.05 417.87C205.08 414.81 206.11 411.52 207.01 409.01C207.92 406.51 208.74 404.48 209.48 402.83C210.23 401.19 210.8 400.02 211.46 399.16C212.12 398.29 212.82 397.74 213.44 397.65C214.06 397.57 214.59 397.93 215.17 398.66C215.75 399.38 216.28 400.33 216.9 402C217.52 403.67 218.13 405.81 218.88 408.68C219.62 411.55 220.44 415.5 221.35 419.2C222.25 422.91 223.32 427.5 224.31 430.9C225.3 434.3 226.21 436.97 227.28 439.59C228.35 442.2 229.5 444.71 230.74 446.6C231.97 448.5 233.29 449.83 234.69 450.95C236.09 452.06 237.78 452.81 239.14 453.29C240.5 453.76 241.53 453.84 242.85 453.79C244.17 453.73 245.61 453.59 247.05 452.95C248.49 452.31 250.06 451.34 251.5 449.94C252.94 448.55 254.38 446.88 255.7 444.6C257.02 442.31 258.25 439.45 259.41 436.24C260.56 433.04 261.63 429.06 262.62 425.39C263.61 421.71 264.47 417.67 265.34 414.19C266.2 410.71 267.03 407.15 267.81 404.5C268.59 401.86 269.33 399.77 270.03 398.32C270.73 396.87 271.39 396.04 272.01 395.82C272.63 395.59 273.16 395.96 273.74 396.99C274.32 398.02 274.81 399.49 275.47 402C276.13 404.5 276.87 408.18 277.7 412.02C278.52 415.86 279.51 421.01 280.41 425.05C281.32 429.09 282.19 432.82 283.13 436.24C284.08 439.67 285.11 443.04 286.1 445.6C287.09 448.16 288.08 450.08 289.06 451.61C290.05 453.15 291.21 454.15 292.03 454.79C292.85 455.43 293.35 455.54 294.01 455.46C294.67 455.37 295.28 455.12 295.98 454.29C296.68 453.45 297.51 452.34 298.21 450.45C298.91 448.55 299.53 446.13 300.19 442.93C300.84 439.73 301.54 435.55 302.16 431.23C302.78 426.92 303.32 422.04 303.89 417.03C304.47 412.02 305.09 405.9 305.62 401.16C306.16 396.43 306.65 391.97 307.11 388.63C307.56 385.29 307.93 382.92 308.34 381.11C308.75 379.3 309.16 378.19 309.58 377.77C309.99 377.36 310.4 377.77 310.81 378.61C311.22 379.44 311.64 380.84 312.05 382.79C312.46 384.73 312.83 387.24 313.28 390.3C313.74 393.37 314.27 397.54 314.77 401.16C315.26 404.78 315.76 408.54 316.25 412.02C316.74 415.5 317.49 420.37 317.73 422.04" fill="none" stroke="#000" stroke-width="2.1" stroke-linejoin="round"/>
<path d="M53.37 396.27C54.25 396.47 56.66 396.92 58.64 397.51C60.61 398.1 63.03 398.74 65.22 399.8C67.42 400.86 69.7 402.25 71.81 403.87C73.92 405.49 75.98 407.4 77.87 409.52C79.76 411.65 81.56 414.3 83.14 416.59C84.72 418.89 86.12 421.54 87.35 423.31C88.58 425.08 89.51 426.32 90.52 427.2C91.53 428.08 92.54 428.55 93.41 428.61C94.29 428.67 94.95 428.38 95.78 427.55C96.62 426.73 97.5 425.34 98.42 423.66C99.34 421.99 100.35 419.6 101.32 417.48C102.28 415.36 103.12 413 104.22 410.94C105.31 408.88 106.59 406.81 107.9 405.11C109.22 403.4 110.54 401.92 112.12 400.69C113.7 399.45 115.32 398.48 117.39 397.68C119.45 396.89 121.78 396.33 124.5 395.92C127.22 395.5 130.43 395.36 133.72 395.21C137.02 395.06 140.53 394.94 144.26 395.03C147.99 395.12 152.16 395.39 156.12 395.74C160.07 396.09 164.24 396.59 167.97 397.15C171.7 397.71 176.3 398.6 178.51 399.1C180.72 399.6 179.79 399.6 181.26 400.16C182.72 400.72 185.43 401.54 187.32 402.45C189.2 403.37 190.92 404.4 192.59 405.64C194.25 406.87 195.83 408.26 197.33 409.88C198.82 411.5 200.23 413.5 201.54 415.36C202.86 417.21 204.09 419.33 205.23 421.01C206.37 422.69 207.43 424.34 208.39 425.43C209.36 426.52 210.15 427.08 211.03 427.55C211.91 428.02 212.83 428.47 213.66 428.26C214.5 428.05 215.24 427.43 216.03 426.32C216.82 425.2 217.53 423.46 218.4 421.54C219.28 419.63 220.25 416.98 221.3 414.83C222.36 412.68 223.5 410.41 224.73 408.64C225.96 406.87 227.27 405.43 228.68 404.22C230.08 403.01 231.53 402.1 233.16 401.39C234.78 400.69 236.67 400.28 238.43 399.98C240.18 399.69 241.94 399.51 243.7 399.63C245.45 399.74 247.3 400.07 248.96 400.69C250.63 401.31 252.13 402.1 253.71 403.34C255.29 404.58 256.96 406.34 258.45 408.11C259.94 409.88 261.35 412.18 262.66 413.94C263.98 415.71 265.26 417.45 266.35 418.72C267.45 419.98 268.42 420.95 269.25 421.54C270.09 422.13 270.66 422.34 271.36 422.25C272.06 422.16 272.72 421.87 273.47 421.01C274.21 420.16 274.96 418.8 275.84 417.12C276.72 415.45 277.68 412.91 278.74 410.94C279.79 408.96 280.97 406.84 282.16 405.28C283.35 403.72 284.53 402.48 285.85 401.57C287.17 400.66 288.75 400.16 290.06 399.8C291.38 399.45 292.61 399.3 293.75 399.45C294.89 399.6 295.9 399.95 296.91 400.69C297.92 401.42 298.89 402.54 299.81 403.87C300.73 405.19 301.61 406.96 302.45 408.64C303.28 410.32 304.07 412.41 304.82 413.94C305.56 415.48 306.31 417.01 306.92 417.83C307.54 418.66 307.98 418.89 308.51 418.89C309.03 418.89 309.47 418.6 310.09 417.83C310.7 417.07 311.4 415.68 312.19 414.3C312.98 412.91 313.95 410.97 314.83 409.52C315.71 408.08 317.02 406.28 317.46 405.64" fill="none" stroke="#ff0000" stroke-width="2.1" stroke-linejoin="round"/>
<path d="M53.5 334.4C54.3 334.67 56.82 335.27 58.3 336C59.78 336.73 61.15 337.53 62.4 338.8C63.65 340.07 64.65 341.65 65.8 343.6C66.95 345.55 68.03 347.87 69.3 350.5C70.57 353.13 72.03 356.2 73.4 359.4C74.77 362.6 76.12 366.03 77.5 369.7C78.88 373.37 80.43 377.62 81.7 381.4C82.97 385.18 84.08 388.97 85.1 392.4C86.12 395.83 86.77 398.4 87.8 402C88.83 405.6 90.03 409.7 91.3 414C92.57 418.3 94.02 423.22 95.4 427.8C96.78 432.38 98.36 437.49 99.6 441.5C100.84 445.51 101.67 449.24 102.85 451.86C104.04 454.48 105.49 456.03 106.73 457.22C107.97 458.42 109.21 458.91 110.31 459.01C111.4 459.11 112.19 458.91 113.29 457.82C114.38 456.73 115.62 455.04 116.87 452.45C118.11 449.87 119.35 446.64 120.74 442.32C122.13 437.99 123.72 432.63 125.21 426.52C126.7 420.4 128.29 412.36 129.68 405.65C131.08 398.94 132.32 392.38 133.56 386.27C134.8 380.16 136.04 373.7 137.14 368.98C138.23 364.26 139.13 360.88 140.12 357.95C141.11 355.02 142.11 352.78 143.1 351.39C144.09 350 145.19 349.75 146.08 349.6C146.98 349.45 147.57 349.6 148.47 350.49C149.36 351.39 150.35 352.23 151.45 354.97C152.54 357.7 153.68 361.92 155.03 366.89C156.37 371.86 158.01 378.82 159.5 384.78C160.99 390.74 162.48 397.2 163.97 402.67C165.46 408.13 166.95 413.2 168.44 417.57C169.93 421.94 171.82 426.32 172.91 428.9C174.01 431.48 174.09 432.08 175 433.07C175.91 434.07 177.25 434.44 178.35 434.86C179.45 435.29 180.33 435.97 181.61 435.64C182.88 435.31 184.59 434.15 186.01 432.89C187.43 431.63 188.88 429.91 190.14 428.07C191.4 426.24 192.43 424.17 193.58 421.88C194.72 419.59 195.53 418.1 197.02 414.31C198.51 410.53 200.69 404.68 202.52 399.17C204.36 393.67 206.31 387.02 208.03 381.28C209.75 375.55 211.65 368.62 212.84 364.77C214.04 360.92 214.5 359.89 215.18 358.17C215.87 356.44 216.33 355.55 216.97 354.45C217.61 353.35 218.35 352.36 219.04 351.56C219.72 350.76 220.46 350.11 221.1 349.63C221.74 349.15 222.32 348.85 222.89 348.67C223.46 348.49 223.97 348.46 224.54 348.53C225.11 348.6 225.76 348.76 226.33 349.08C226.9 349.4 227.41 349.79 227.98 350.46C228.56 351.12 229.2 352.06 229.77 353.07C230.34 354.08 230.46 353.88 231.42 356.51C232.39 359.15 234.17 364.31 235.55 368.9C236.93 373.49 238.3 378.76 239.68 384.04C241.06 389.31 242.43 395.05 243.81 400.55C245.18 406.06 246.56 411.79 247.94 417.06C249.31 422.34 250.96 428.49 252.06 432.2C253.17 435.92 253.74 437.34 254.54 439.36C255.34 441.38 256.15 442.98 256.88 444.31C257.61 445.64 258.26 446.54 258.94 447.34C259.63 448.14 260.21 448.67 261.01 449.13C261.81 449.59 262.68 450.23 263.76 450.09C264.84 449.95 266.32 449.48 267.49 448.28C268.65 447.08 269.62 445.4 270.77 442.91C271.91 440.43 273.15 437.1 274.34 433.37C275.54 429.65 276.73 425.32 277.92 420.55C279.11 415.78 280.31 409.97 281.5 404.75C282.69 399.54 283.93 393.82 285.08 389.25C286.22 384.68 287.31 380.31 288.36 377.33C289.4 374.34 290.44 372.61 291.34 371.36C292.23 370.12 292.93 369.87 293.72 369.87C294.52 369.87 295.26 370.22 296.11 371.36C296.95 372.51 297.85 374.49 298.79 376.73C299.73 378.97 300.88 382.59 301.77 384.78C302.67 386.96 303.41 388.8 304.16 389.85C304.9 390.89 305.55 391.24 306.24 391.04C306.94 390.84 307.59 390.19 308.33 388.65C309.08 387.11 309.82 384.68 310.72 381.8C311.61 378.92 312.55 375.09 313.7 371.36C314.84 367.64 316.93 361.43 317.57 359.44" fill="none" stroke="#0000ff" stroke-width="2.1" stroke-linejoin="round"/>
<path d="M53.36 398.79C55.4 398.99 61.07 399.68 65.59 399.98C70.11 400.28 75.53 400.38 80.49 400.58C85.46 400.78 90.68 400.98 95.4 401.18C100.12 401.37 105.09 401.77 108.82 401.77C112.54 401.77 115.03 401.77 117.76 401.18C120.49 400.58 122.98 399.49 125.21 398.19C127.45 396.9 129.19 395.11 131.18 393.42C133.16 391.73 135.25 389.55 137.14 388.06C139.03 386.57 141.01 385.18 142.5 384.48C143.99 383.78 144.89 383.74 146.08 383.88C147.27 384.03 148.37 384.33 149.66 385.37C150.95 386.42 152.34 388.01 153.83 390.14C155.32 392.28 157.01 395.46 158.6 398.19C160.19 400.93 161.73 403.96 163.37 406.54C165.01 409.13 166.85 411.81 168.44 413.7C170.03 415.58 171.82 416.98 172.91 417.87C174.01 418.76 174.09 418.72 175 419.06C175.91 419.41 177.51 419.95 178.35 419.96C179.18 419.96 178.71 419.93 180 419.1C181.29 418.27 184.05 417.22 186.1 415C188.15 412.78 190.25 409.2 192.3 405.8C194.35 402.4 196.37 397.73 198.4 394.6C200.43 391.47 202.8 388.7 204.5 387C206.2 385.3 207.23 384.93 208.6 384.4C209.97 383.87 211.17 383.57 212.7 383.8C214.23 384.03 216.27 384.85 217.8 385.8C219.33 386.75 220.37 388.2 221.9 389.5C223.43 390.8 225.47 392.58 227 393.6C228.53 394.62 229.73 395.1 231.1 395.6C232.47 396.1 233.15 396.22 235.2 396.6C237.25 396.98 241.18 397.38 243.4 397.9C245.62 398.42 246.8 398.88 248.5 399.7C250.2 400.52 251.4 401.6 253.6 402.8C255.8 404 259.48 405.92 261.7 406.9C263.92 407.88 265.37 408.3 266.9 408.7C268.43 409.1 269.37 409.43 270.9 409.3C272.43 409.17 274.22 408.65 276.1 407.9C277.98 407.15 280.17 405.9 282.2 404.8C284.23 403.7 286.53 402.08 288.3 401.3C290.07 400.52 291.27 400.3 292.8 400.1C294.33 399.9 295.87 399.87 297.5 400.1C299.13 400.33 301 401.27 302.6 401.5C304.2 401.73 305.57 401.7 307.1 401.5C308.63 401.3 310.17 400.93 311.8 400.3C313.43 399.67 316.05 398.13 316.9 397.7" fill="none" stroke="#ff00ff" stroke-width="1.9" stroke-linejoin="round" stroke-dasharray="1.8 2.0"/>
<path d="M53.36 360.33C54.41 359.44 57.34 357 59.63 354.97C61.91 352.93 64.69 350.49 67.08 348.11C69.46 345.72 72 342.69 73.94 340.66C75.87 338.62 77.31 336.98 78.71 335.89C80.1 334.79 81.19 334.15 82.28 334.1C83.38 334.05 84.32 334.35 85.26 335.59C86.21 336.83 87.05 338.82 87.95 341.55C88.84 344.28 89.74 348.01 90.63 351.98C91.52 355.96 92.42 361.08 93.31 365.4C94.21 369.72 95.05 374.15 96 377.92C96.94 381.7 97.88 385.23 98.98 388.06C100.07 390.89 101.36 393.18 102.56 394.91C103.75 396.65 105.04 397.75 106.13 398.49C107.23 399.24 107.82 399.49 109.11 399.39C110.41 399.29 111.8 398.79 113.88 397.9C115.97 397 118.75 395.56 121.64 394.02C124.52 392.48 127.85 390.39 131.18 388.65C134.5 386.92 137.88 385.28 141.61 383.59C145.34 381.9 149.71 380.06 153.53 378.52C157.36 376.98 160.99 375.54 164.57 374.34C168.14 373.15 171.61 372.26 175 371.36C178.39 370.47 180.77 370.07 184.91 368.98C189.04 367.88 194.84 366.15 199.81 364.8C204.78 363.46 209.75 362.42 214.72 360.93C219.69 359.44 224.66 357.55 229.63 355.86C234.59 354.17 239.81 352.63 244.53 350.79C249.25 348.95 253.72 346.87 257.95 344.83C262.17 342.79 266.74 340.26 269.87 338.57C273 336.88 274.79 335.44 276.73 334.69C278.67 333.95 280.11 333.9 281.5 334.1C282.89 334.3 283.93 334.54 285.08 335.89C286.22 337.23 287.26 339.21 288.36 342.15C289.45 345.08 290.49 349.1 291.64 353.48C292.78 357.85 294.02 363.51 295.21 368.38C296.41 373.25 297.6 378.67 298.79 382.69C299.98 386.72 301.18 390.05 302.37 392.53C303.56 395.01 304.85 396.55 305.95 397.6C307.04 398.64 307.83 398.99 308.93 398.79C310.02 398.59 311.06 397.6 312.5 396.41C313.95 395.21 316.73 392.43 317.57 391.64" fill="none" stroke="#008000" stroke-width="2.1" stroke-linejoin="round"/>
<path d="M53.36 373.45C54.41 374.34 57.34 376.68 59.63 378.82C61.91 380.95 64.69 383.88 67.08 386.27C69.46 388.65 71.95 391.24 73.94 393.13C75.92 395.01 77.56 396.6 79 397.6C80.44 398.59 81.49 399.24 82.58 399.09C83.67 398.94 84.62 398.34 85.56 396.7C86.51 395.06 87.35 392.48 88.25 389.25C89.14 386.02 89.98 381.9 90.93 377.33C91.87 372.75 92.87 366.89 93.91 361.82C94.95 356.75 96.05 350.79 97.19 346.92C98.33 343.04 99.57 340.56 100.77 338.57C101.96 336.58 103.15 335.74 104.34 334.99C105.54 334.25 106.43 334 107.92 334.1C109.41 334.2 110.9 334.49 113.29 335.59C115.67 336.68 118.75 338.57 122.23 340.66C125.71 342.74 129.93 345.67 134.16 348.11C138.38 350.54 143.1 353.33 147.57 355.26C152.04 357.2 156.42 358.39 160.99 359.74C165.56 361.08 171.01 362.37 175 363.31C178.99 364.26 180.77 364.31 184.91 365.4C189.04 366.49 194.84 368.38 199.81 369.87C204.78 371.36 209.75 372.85 214.72 374.34C219.69 375.83 224.66 377.08 229.63 378.82C234.59 380.56 239.56 382.79 244.53 384.78C249.5 386.77 254.97 388.85 259.44 390.74C263.91 392.63 268.18 394.77 271.36 396.11C274.54 397.45 276.68 398.29 278.52 398.79C280.36 399.29 281.25 399.68 282.39 399.09C283.54 398.49 284.38 397.45 285.37 395.21C286.37 392.98 287.31 389.65 288.36 385.67C289.4 381.7 290.49 376.33 291.64 371.36C292.78 366.39 294.02 360.43 295.21 355.86C296.41 351.29 297.6 347.12 298.79 343.94C299.98 340.76 301.18 338.42 302.37 336.78C303.56 335.14 304.75 334.35 305.95 334.1C307.14 333.85 308.23 334.49 309.52 335.29C310.81 336.08 312.36 337.67 313.7 338.87C315.04 340.06 316.93 341.85 317.57 342.44" fill="none" stroke="#000080" stroke-width="2.1" stroke-linejoin="round"/>
<line x1="380.4" y1="278.5" x2="380.4" y2="497.4" stroke="#000" stroke-width="1.6"/>
<line x1="379.6" y1="496.6" x2="674.8" y2="496.6" stroke="#000" stroke-width="1.6"/>
<line x1="375.9" y1="279.3" x2="380.4" y2="279.3" stroke="#000" stroke-width="1.25"/>
<text x="372.6" y="283.76" font-family='"Liberation Sans", sans-serif' font-size="14.6" font-weight="bold" text-anchor="end">60</text>
<line x1="377.8" y1="288.35" x2="380.4" y2="288.35" stroke="#000" stroke-width="1.15"/>
<line x1="375.9" y1="297.41" x2="380.4" y2="297.41" stroke="#000" stroke-width="1.25"/>
<text x="372.6" y="301.86" font-family='"Liberation Sans", sans-serif' font-size="14.6" font-weight="bold" text-anchor="end">50</text>
<line x1="377.8" y1="306.46" x2="380.4" y2="306.46" stroke="#000" stroke-width="1.15"/>
<line x1="375.9" y1="315.52" x2="380.4" y2="315.52" stroke="#000" stroke-width="1.25"/>
<text x="372.6" y="319.97" font-family='"Liberation Sans", sans-serif' font-size="14.6" font-weight="bold" text-anchor="end">40</text>
<line x1="377.8" y1="324.57" x2="380.4" y2="324.57" stroke="#000" stroke-width="1.15"/>
<line x1="375.9" y1="333.62" x2="380.4" y2="333.62" stroke="#000" stroke-width="1.25"/>
<text x="372.6" y="338.08" font-family='"Liberation Sans", sans-serif' font-size="14.6" font-weight="bold" text-anchor="end">30</text>
<line x1="377.8" y1="342.68" x2="380.4" y2="342.68" stroke="#000" stroke-width="1.15"/>
<line x1="375.9" y1="351.73" x2="380.4" y2="351.73" stroke="#000" stroke-width="1.25"/>
<text x="372.6" y="356.19" font-family='"Liberation Sans", sans-serif' font-size="14.6" font-weight="bold" text-anchor="end">20</text>
<line x1="377.8" y1="360.79" x2="380.4" y2="360.79" stroke="#000" stroke-width="1.15"/>
<line x1="375.9" y1="369.84" x2="380.4" y2="369.84" stroke="#000" stroke-width="1.25"/>
<text x="372.6" y="374.3" font-family='"Liberation Sans", sans-serif' font-size="14.6" font-weight="bold" text-anchor="end">10</text>
<line x1="377.8" y1="378.9" x2="380.4" y2="378.9" stroke="#000" stroke-width="1.15"/>
<line x1="375.9" y1="387.95" x2="380.4" y2="387.95" stroke="#000" stroke-width="1.25"/>
<text x="372.6" y="392.41" font-family='"Liberation Sans", sans-serif' font-size="14.6" font-weight="bold" text-anchor="end">0</text>
<line x1="377.8" y1="397" x2="380.4" y2="397" stroke="#000" stroke-width="1.15"/>
<line x1="375.9" y1="406.06" x2="380.4" y2="406.06" stroke="#000" stroke-width="1.25"/>
<text x="372.6" y="410.51" font-family='"Liberation Sans", sans-serif' font-size="14.6" font-weight="bold" text-anchor="end">-10</text>
<line x1="377.8" y1="415.11" x2="380.4" y2="415.11" stroke="#000" stroke-width="1.15"/>
<line x1="375.9" y1="424.17" x2="380.4" y2="424.17" stroke="#000" stroke-width="1.25"/>
<text x="372.6" y="428.62" font-family='"Liberation Sans", sans-serif' font-size="14.6" font-weight="bold" text-anchor="end">-20</text>
<line x1="377.8" y1="433.22" x2="380.4" y2="433.22" stroke="#000" stroke-width="1.15"/>
<line x1="375.9" y1="442.28" x2="380.4" y2="442.28" stroke="#000" stroke-width="1.25"/>
<text x="372.6" y="446.73" font-family='"Liberation Sans", sans-serif' font-size="14.6" font-weight="bold" text-anchor="end">-30</text>
<line x1="377.8" y1="451.33" x2="380.4" y2="451.33" stroke="#000" stroke-width="1.15"/>
<line x1="375.9" y1="460.38" x2="380.4" y2="460.38" stroke="#000" stroke-width="1.25"/>
<text x="372.6" y="464.84" font-family='"Liberation Sans", sans-serif' font-size="14.6" font-weight="bold" text-anchor="end">-40</text>
<line x1="377.8" y1="469.44" x2="380.4" y2="469.44" stroke="#000" stroke-width="1.15"/>
<line x1="375.9" y1="478.49" x2="380.4" y2="478.49" stroke="#000" stroke-width="1.25"/>
<text x="372.6" y="482.95" font-family='"Liberation Sans", sans-serif' font-size="14.6" font-weight="bold" text-anchor="end">-50</text>
<line x1="377.8" y1="487.55" x2="380.4" y2="487.55" stroke="#000" stroke-width="1.15"/>
<line x1="375.9" y1="496.6" x2="380.4" y2="496.6" stroke="#000" stroke-width="1.25"/>
<text x="372.6" y="501.06" font-family='"Liberation Sans", sans-serif' font-size="14.6" font-weight="bold" text-anchor="end">-60</text>
<line x1="380.4" y1="496.6" x2="380.4" y2="501.1" stroke="#000" stroke-width="1.25"/>
<text x="380.4" y="518.8" font-family='"Liberation Sans", sans-serif' font-size="18.5" font-weight="bold" text-anchor="middle">7</text>
<line x1="404.87" y1="496.6" x2="404.87" y2="499.2" stroke="#000" stroke-width="1.15"/>
<line x1="429.33" y1="496.6" x2="429.33" y2="501.1" stroke="#000" stroke-width="1.25"/>
<text x="429.33" y="518.8" font-family='"Liberation Sans", sans-serif' font-size="18.5" font-weight="bold" text-anchor="middle">8</text>
<line x1="453.8" y1="496.6" x2="453.8" y2="499.2" stroke="#000" stroke-width="1.15"/>
<line x1="478.27" y1="496.6" x2="478.27" y2="501.1" stroke="#000" stroke-width="1.25"/>
<text x="478.27" y="518.8" font-family='"Liberation Sans", sans-serif' font-size="18.5" font-weight="bold" text-anchor="middle">9</text>
<line x1="502.73" y1="496.6" x2="502.73" y2="499.2" stroke="#000" stroke-width="1.15"/>
<line x1="527.2" y1="496.6" x2="527.2" y2="501.1" stroke="#000" stroke-width="1.25"/>
<text x="527.2" y="518.8" font-family='"Liberation Sans", sans-serif' font-size="18.5" font-weight="bold" text-anchor="middle">10</text>
<line x1="551.67" y1="496.6" x2="551.67" y2="499.2" stroke="#000" stroke-width="1.15"/>
<line x1="576.13" y1="496.6" x2="576.13" y2="501.1" stroke="#000" stroke-width="1.25"/>
<text x="576.13" y="518.8" font-family='"Liberation Sans", sans-serif' font-size="18.5" font-weight="bold" text-anchor="middle">11</text>
<line x1="600.6" y1="496.6" x2="600.6" y2="499.2" stroke="#000" stroke-width="1.15"/>
<line x1="625.07" y1="496.6" x2="625.07" y2="501.1" stroke="#000" stroke-width="1.25"/>
<text x="625.07" y="518.8" font-family='"Liberation Sans", sans-serif' font-size="18.5" font-weight="bold" text-anchor="middle">12</text>
<line x1="649.53" y1="496.6" x2="649.53" y2="499.2" stroke="#000" stroke-width="1.15"/>
<line x1="674" y1="496.6" x2="674" y2="501.1" stroke="#000" stroke-width="1.25"/>
<text x="674" y="518.8" font-family='"Liberation Sans", sans-serif' font-size="18.5" font-weight="bold" text-anchor="middle">13</text>
<path d="M380.25 385.67C381.99 385.42 387.05 384.93 390.68 384.18C394.31 383.44 398.43 382.49 402.01 381.2C405.59 379.91 408.97 378.37 412.15 376.43C415.33 374.49 418.31 372.01 421.09 369.57C423.87 367.14 426.7 363.91 428.84 361.82C430.98 359.74 433.07 357.85 433.91 357.05C434.46 357.6 435.9 358.2 437.19 360.33C438.48 362.47 440.22 366.29 441.66 369.87C443.1 373.45 444.44 378.17 445.83 381.8C447.23 385.42 448.57 388.8 450.01 391.64C451.45 394.47 452.79 396.9 454.48 398.79C456.17 400.68 457.96 401.72 460.14 402.96C462.33 404.21 464.87 405.3 467.6 406.24C470.33 407.19 473.56 407.73 476.54 408.63C479.52 409.52 483.69 410.98 485.49 411.61C487.28 412.24 485.54 411.4 487.3 412.41C489.06 413.42 493.14 415.62 496.06 417.66C498.98 419.71 502.19 422.19 504.82 424.67C507.45 427.15 509.49 429.49 511.82 432.55C514.16 435.62 516.5 439.27 518.83 443.07C521.17 446.86 523.94 452.55 525.84 455.33C527.74 458.1 529.05 458.77 530.22 459.71C531.39 460.64 532.41 460.73 532.85 460.93C533.28 460.53 534.6 459.71 535.47 458.48C536.35 457.26 536.79 456.73 538.1 453.58C539.42 450.42 541.61 444.23 543.36 439.56C545.11 434.89 546.86 429.93 548.61 425.55C550.36 421.17 551.97 416.79 553.87 413.28C555.77 409.78 557.97 406.74 560 404.53C562.03 402.31 563.85 401.04 566.05 399.98C568.25 398.93 571.02 398.34 573.2 398.19C575.39 398.05 577.28 398 579.17 399.09C581.05 400.18 582.84 401.92 584.53 404.75C586.22 407.59 587.81 411.96 589.3 416.08C590.79 420.21 592.13 424.53 593.48 429.5C594.82 434.47 596.16 441.07 597.35 445.89C598.54 450.71 599.64 455.19 600.63 458.42C601.62 461.65 602.87 464.13 603.31 465.27C603.66 464.53 604.56 463.78 605.4 460.8C606.25 457.82 607.29 452.35 608.38 447.39C609.47 442.42 610.72 436.11 611.96 430.99C613.2 425.87 614.44 420.75 615.83 416.68C617.23 412.6 618.57 409.37 620.31 406.54C622.05 403.71 624.18 401.37 626.27 399.68C628.36 398 630.84 397 632.83 396.41C634.82 395.81 636.65 395.71 638.19 396.11C639.73 396.5 640.98 397.2 642.07 398.79C643.16 400.38 643.96 402.02 644.75 405.65C645.55 409.27 646.19 414.09 646.84 420.55C647.49 427.01 648.08 436.7 648.63 444.4C649.18 452.11 649.67 460.45 650.12 466.76C650.57 473.07 650.96 478.99 651.31 482.27C651.66 485.55 652.06 485.74 652.21 486.44C652.36 485.4 652.75 484.95 653.1 480.18C653.45 475.41 653.85 466.02 654.29 457.82C654.74 449.62 655.24 438.94 655.78 430.99C656.33 423.04 656.88 415.19 657.57 410.12C658.27 405.05 658.91 403.06 659.96 400.58C661 398.09 662.24 396.6 663.83 395.21C665.42 393.82 668.55 392.73 669.5 392.23" fill="none" stroke="#ff0000" stroke-width="2.35" stroke-linejoin="round" stroke-dasharray="10 4.3 3.4 4.3 3.4 4.3"/>
<path d="M380.25 348.41C382.48 348.46 389.44 348.66 393.66 348.71C397.89 348.75 402.21 348.9 405.59 348.71C408.97 348.51 411.65 348.16 413.94 347.51C416.22 346.87 417.61 346.22 419.3 344.83C420.99 343.44 422.63 341.45 424.07 339.17C425.51 336.88 426.66 334.3 427.95 331.12C429.24 327.94 430.58 323.56 431.82 320.09C433.07 316.61 434.21 312.98 435.4 310.25C436.59 307.51 437.79 305.23 438.98 303.69C440.17 302.15 441.56 301.5 442.56 301.01C443.55 300.51 443.95 300.56 444.94 300.71C445.93 300.86 447.13 301.1 448.52 301.9C449.91 302.69 451.5 304.14 453.29 305.48C455.08 306.82 457.01 308.61 459.25 309.95C461.49 311.29 464.12 312.63 466.7 313.53C469.29 314.42 471.92 314.97 474.75 315.32C477.59 315.66 480.72 315.66 483.7 315.61C486.68 315.56 489.96 315.17 492.64 315.02C495.32 314.87 497.6 314.85 499.8 314.72C502 314.59 503.86 314.17 505.84 314.25C507.82 314.33 509.93 314.6 511.68 315.18C513.43 315.77 514.89 316.58 516.35 317.75C517.81 318.92 519.17 320.57 520.44 322.19C521.7 323.81 522.77 325.3 523.94 327.45C525.11 329.59 526.28 332.12 527.45 335.04C528.61 337.96 529.78 341.65 530.95 344.96C532.12 348.27 533.28 351.48 534.45 354.89C535.62 358.3 536.89 362.29 537.96 365.4C539.03 368.52 539.9 371.24 540.88 373.58C541.85 375.91 542.82 377.96 543.8 379.42C544.77 380.88 545.88 381.75 546.72 382.34C547.55 382.92 548.04 382.98 548.82 382.92C549.6 382.86 550.37 382.57 551.39 381.99C552.4 381.4 553.33 381.01 554.89 379.42C556.45 377.82 558.59 375.23 560.73 372.41C562.87 369.59 565.4 365.99 567.74 362.48C570.07 358.98 572.7 354.6 574.74 351.39C576.79 348.18 578.67 345.25 580 343.21C581.33 341.17 581.34 341.43 582.74 339.17C584.14 336.9 586.82 332.06 588.41 329.63C590 327.19 591.14 325.65 592.28 324.56C593.43 323.46 594.42 323.07 595.26 323.07C596.11 323.07 596.7 323.36 597.35 324.56C598 325.75 598.49 327.14 599.14 330.22C599.79 333.3 600.48 338.17 601.23 343.04C601.97 347.91 602.82 354.22 603.61 359.44C604.41 364.66 605.15 369.97 606 374.34C606.84 378.72 607.79 382.84 608.68 385.67C609.57 388.51 610.52 390.19 611.36 391.34C612.21 392.48 612.85 392.73 613.75 392.53C614.64 392.33 615.34 391.73 616.73 390.14C618.12 388.55 620.01 385.87 622.1 382.99C624.18 380.11 626.96 376.18 629.25 372.85C631.54 369.52 633.92 366.25 635.81 363.02C637.7 359.79 639.24 356.8 640.58 353.48C641.92 350.15 642.91 346.62 643.86 343.04C644.8 339.46 645.55 335.34 646.24 332.01C646.94 328.68 647.54 325.05 648.03 323.07C648.53 321.08 648.83 320.18 649.22 320.09C649.62 319.99 650.07 320.13 650.42 322.47C650.77 324.81 651.01 328.93 651.31 334.1C651.61 339.26 651.91 346.27 652.21 353.48C652.5 360.68 652.8 369.87 653.1 377.33C653.4 384.78 653.7 392.73 653.99 398.19C654.29 403.66 654.59 407.68 654.89 410.12C655.19 412.55 655.39 412.9 655.78 412.8C656.18 412.7 656.63 411.46 657.27 409.52C657.92 407.59 658.67 404.41 659.66 401.18C660.65 397.95 661.94 393.52 663.24 390.14C664.53 386.77 666.12 383.34 667.41 380.9C668.7 378.47 669.89 376.88 670.99 375.54C672.08 374.2 673.47 373.3 673.97 372.85" fill="none" stroke="#000" stroke-width="2.3" stroke-linejoin="round"/>
<g transform="translate(344.7 487.4) rotate(-90)">
<text x="0" y="0" font-family='"Liberation Serif", serif' font-size="18.6" font-weight="bold" textLength="168.6" lengthAdjust="spacingAndGlyphs">Relative Permittivity</text>
<text x="173" y="0.3" font-family='"Liberation Serif", serif' font-size="12" font-weight="normal" stroke="#000" stroke-width="0.3">(</text>
<text x="178.2" y="0" font-family='"Liberation Serif", serif' font-size="19.5" font-weight="bold" font-style="italic" textLength="8.8" lengthAdjust="spacingAndGlyphs">&#949;</text>
<text x="186.6" y="3.3" font-family='"Liberation Sans", sans-serif' font-size="6" font-weight="bold">r</text>
<text x="187.6" y="0.3" font-family='"Liberation Serif", serif' font-size="12" font-weight="normal" stroke="#000" stroke-width="0.3">)</text>
</g>
<clipPath id="cd"><rect x="440" y="515" width="180" height="25.8"/></clipPath>
<text x="528" y="539.4" font-family='"Liberation Serif", serif' font-size="18.6" font-weight="bold" text-anchor="middle" textLength="141" lengthAdjust="spacingAndGlyphs" clip-path="url(#cd)">Frequency (GHz)</text>
<text x="543.7" y="567.1" font-family='"Liberation Sans", sans-serif' font-size="14" font-weight="bold" text-anchor="middle">(d)</text>
<line x1="392" y1="444.6" x2="419.3" y2="444.6" stroke="#000" stroke-width="2"/>
<text x="423.3" y="449.3" font-family='"Liberation Serif", serif' font-size="18.5" font-weight="normal" font-style="italic" textLength="10.6" lengthAdjust="spacingAndGlyphs">&#949;</text>
<text x="431.6" y="455.6" font-family='"Liberation Sans", sans-serif' font-size="12.2" font-weight="bold" textLength="3.9" lengthAdjust="spacingAndGlyphs">r</text>
<text x="435.6" y="450.1" font-family='"Liberation Serif", serif' font-size="20.4" font-weight="normal" stroke="#000" stroke-width="0.15">[</text>
<text x="441.6" y="449.7" font-family='"Liberation Serif", serif' font-size="18.4" font-weight="bold" textLength="31.2" lengthAdjust="spacingAndGlyphs">real</text>
<text x="472.8" y="450.1" font-family='"Liberation Serif", serif' font-size="20.4" font-weight="normal" stroke="#000" stroke-width="0.15">]</text>
<path d="M392 476.7H401M404.7 476.7H408.4M412.7 476.7H418.3" stroke="#ff0000" stroke-width="2.0" fill="none"/>
<text x="423.3" y="481.4" font-family='"Liberation Serif", serif' font-size="18.5" font-weight="normal" font-style="italic" textLength="10.6" lengthAdjust="spacingAndGlyphs">&#949;</text>
<text x="431.6" y="487.7" font-family='"Liberation Sans", sans-serif' font-size="12.2" font-weight="bold" textLength="3.9" lengthAdjust="spacingAndGlyphs">r</text>
<text x="435.6" y="482.2" font-family='"Liberation Serif", serif' font-size="20.4" font-weight="normal" stroke="#000" stroke-width="0.15">[</text>
<text x="441.6" y="481.8" font-family='"Liberation Serif", serif' font-size="18.4" font-weight="bold" textLength="30.6" lengthAdjust="spacingAndGlyphs">img</text>
<text x="472.1" y="482.2" font-family='"Liberation Serif", serif' font-size="20.4" font-weight="normal" stroke="#000" stroke-width="0.15">]</text>
<line x1="46.1" y1="593.3" x2="46.1" y2="802.6" stroke="#000" stroke-width="1.6"/>
<line x1="45.3" y1="801.8" x2="324.3" y2="801.8" stroke="#000" stroke-width="1.6"/>
<line x1="41.6" y1="594.1" x2="46.1" y2="594.1" stroke="#000" stroke-width="1.25"/>
<text x="38.9" y="598.94" font-family='"Liberation Sans", sans-serif' font-size="14" font-weight="bold" text-anchor="end">25</text>
<line x1="43.5" y1="604.49" x2="46.1" y2="604.49" stroke="#000" stroke-width="1.15"/>
<line x1="41.6" y1="614.87" x2="46.1" y2="614.87" stroke="#000" stroke-width="1.25"/>
<text x="38.9" y="619.71" font-family='"Liberation Sans", sans-serif' font-size="14" font-weight="bold" text-anchor="end">20</text>
<line x1="43.5" y1="625.25" x2="46.1" y2="625.25" stroke="#000" stroke-width="1.15"/>
<line x1="41.6" y1="635.64" x2="46.1" y2="635.64" stroke="#000" stroke-width="1.25"/>
<text x="38.9" y="640.48" font-family='"Liberation Sans", sans-serif' font-size="14" font-weight="bold" text-anchor="end">15</text>
<line x1="43.5" y1="646.02" x2="46.1" y2="646.02" stroke="#000" stroke-width="1.15"/>
<line x1="41.6" y1="656.41" x2="46.1" y2="656.41" stroke="#000" stroke-width="1.25"/>
<text x="38.9" y="661.25" font-family='"Liberation Sans", sans-serif' font-size="14" font-weight="bold" text-anchor="end">10</text>
<line x1="43.5" y1="666.79" x2="46.1" y2="666.79" stroke="#000" stroke-width="1.15"/>
<line x1="41.6" y1="677.18" x2="46.1" y2="677.18" stroke="#000" stroke-width="1.25"/>
<text x="38.9" y="682.02" font-family='"Liberation Sans", sans-serif' font-size="14" font-weight="bold" text-anchor="end">5</text>
<line x1="43.5" y1="687.57" x2="46.1" y2="687.57" stroke="#000" stroke-width="1.15"/>
<line x1="41.6" y1="697.95" x2="46.1" y2="697.95" stroke="#000" stroke-width="1.25"/>
<text x="38.9" y="702.79" font-family='"Liberation Sans", sans-serif' font-size="14" font-weight="bold" text-anchor="end">0</text>
<line x1="43.5" y1="708.34" x2="46.1" y2="708.34" stroke="#000" stroke-width="1.15"/>
<line x1="41.6" y1="718.72" x2="46.1" y2="718.72" stroke="#000" stroke-width="1.25"/>
<text x="38.9" y="723.56" font-family='"Liberation Sans", sans-serif' font-size="14" font-weight="bold" text-anchor="end">-5</text>
<line x1="43.5" y1="729.11" x2="46.1" y2="729.11" stroke="#000" stroke-width="1.15"/>
<line x1="41.6" y1="739.49" x2="46.1" y2="739.49" stroke="#000" stroke-width="1.25"/>
<text x="38.9" y="744.33" font-family='"Liberation Sans", sans-serif' font-size="14" font-weight="bold" text-anchor="end">-10</text>
<line x1="43.5" y1="749.88" x2="46.1" y2="749.88" stroke="#000" stroke-width="1.15"/>
<line x1="41.6" y1="760.26" x2="46.1" y2="760.26" stroke="#000" stroke-width="1.25"/>
<text x="38.9" y="765.1" font-family='"Liberation Sans", sans-serif' font-size="14" font-weight="bold" text-anchor="end">-15</text>
<line x1="43.5" y1="770.64" x2="46.1" y2="770.64" stroke="#000" stroke-width="1.15"/>
<line x1="41.6" y1="781.03" x2="46.1" y2="781.03" stroke="#000" stroke-width="1.25"/>
<text x="38.9" y="785.87" font-family='"Liberation Sans", sans-serif' font-size="14" font-weight="bold" text-anchor="end">-20</text>
<line x1="43.5" y1="791.41" x2="46.1" y2="791.41" stroke="#000" stroke-width="1.15"/>
<line x1="41.6" y1="801.8" x2="46.1" y2="801.8" stroke="#000" stroke-width="1.25"/>
<text x="38.9" y="806.64" font-family='"Liberation Sans", sans-serif' font-size="14" font-weight="bold" text-anchor="end">-25</text>
<line x1="46.1" y1="801.8" x2="46.1" y2="806.3" stroke="#000" stroke-width="1.25"/>
<text x="46.1" y="823.4" font-family='"Liberation Sans", sans-serif' font-size="17.3" font-weight="bold" text-anchor="middle">7</text>
<line x1="69.22" y1="801.8" x2="69.22" y2="804.4" stroke="#000" stroke-width="1.15"/>
<line x1="92.33" y1="801.8" x2="92.33" y2="806.3" stroke="#000" stroke-width="1.25"/>
<text x="92.33" y="823.4" font-family='"Liberation Sans", sans-serif' font-size="17.3" font-weight="bold" text-anchor="middle">8</text>
<line x1="115.45" y1="801.8" x2="115.45" y2="804.4" stroke="#000" stroke-width="1.15"/>
<line x1="138.57" y1="801.8" x2="138.57" y2="806.3" stroke="#000" stroke-width="1.25"/>
<text x="138.57" y="823.4" font-family='"Liberation Sans", sans-serif' font-size="17.3" font-weight="bold" text-anchor="middle">9</text>
<line x1="161.68" y1="801.8" x2="161.68" y2="804.4" stroke="#000" stroke-width="1.15"/>
<line x1="184.8" y1="801.8" x2="184.8" y2="806.3" stroke="#000" stroke-width="1.25"/>
<text x="184.8" y="823.4" font-family='"Liberation Sans", sans-serif' font-size="17.3" font-weight="bold" text-anchor="middle">10</text>
<line x1="207.92" y1="801.8" x2="207.92" y2="804.4" stroke="#000" stroke-width="1.15"/>
<line x1="231.03" y1="801.8" x2="231.03" y2="806.3" stroke="#000" stroke-width="1.25"/>
<text x="231.03" y="823.4" font-family='"Liberation Sans", sans-serif' font-size="17.3" font-weight="bold" text-anchor="middle">11</text>
<line x1="254.15" y1="801.8" x2="254.15" y2="804.4" stroke="#000" stroke-width="1.15"/>
<line x1="277.27" y1="801.8" x2="277.27" y2="806.3" stroke="#000" stroke-width="1.25"/>
<text x="277.27" y="823.4" font-family='"Liberation Sans", sans-serif' font-size="17.3" font-weight="bold" text-anchor="middle">12</text>
<line x1="300.38" y1="801.8" x2="300.38" y2="804.4" stroke="#000" stroke-width="1.15"/>
<line x1="323.5" y1="801.8" x2="323.5" y2="806.3" stroke="#000" stroke-width="1.25"/>
<text x="323.5" y="823.4" font-family='"Liberation Sans", sans-serif' font-size="17.3" font-weight="bold" text-anchor="middle">13</text>
<path d="M46.21 689.11C48.2 688.87 54.41 688.22 58.13 687.62C61.86 687.03 65.74 686.18 68.57 685.54C71.4 684.89 73.44 684.15 75.13 683.75C76.82 683.35 77.61 683.15 78.71 683.15C79.8 683.15 80.69 683.2 81.69 683.75C82.68 684.29 83.67 685.09 84.67 686.43C85.66 687.77 86.66 689.86 87.65 691.8C88.64 693.74 89.64 696.37 90.63 698.06C91.62 699.75 92.62 701.09 93.61 701.93C94.61 702.78 95.3 703.08 96.59 703.13C97.88 703.18 99.33 702.83 101.36 702.23C103.4 701.64 105.83 700.44 108.82 699.55C111.8 698.65 115.03 697.66 119.25 696.87C123.47 696.07 129.19 695.42 134.16 694.78C139.13 694.13 144.09 693.59 149.06 692.99C154.03 692.39 159.65 691.75 163.97 691.2C168.29 690.65 172.01 690.11 175 689.71C177.99 689.31 179.18 689.41 181.93 688.82C184.67 688.22 188.68 687.28 191.47 686.13C194.25 684.99 196.53 683.75 198.62 681.96C200.71 680.17 202.45 677.74 203.99 675.4C205.53 673.07 206.77 670.43 207.86 667.95C208.96 665.46 209.8 662.38 210.55 660.49C211.29 658.61 211.84 657.31 212.33 656.62C212.83 655.92 213.18 655.77 213.53 656.32C213.87 656.87 214.12 656.72 214.42 659.9C214.72 663.08 215.02 669.59 215.32 675.4C215.61 681.21 215.91 689.21 216.21 694.78C216.51 700.34 216.76 705.16 217.1 708.79C217.45 712.42 217.9 714.85 218.3 716.54C218.69 718.23 218.99 718.93 219.49 718.93C219.99 718.93 220.48 717.93 221.28 716.54C222.07 715.15 222.97 712.72 224.26 710.58C225.55 708.44 227.04 705.76 229.03 703.72C231.02 701.69 233.35 699.95 236.18 698.36C239.02 696.77 242.89 695.52 246.02 694.18C249.15 692.84 252.33 691.85 254.97 690.31C257.6 688.77 259.84 686.93 261.82 684.94C263.81 682.95 265.5 680.37 266.89 678.38C268.28 676.39 269.28 674.26 270.17 673.02C271.06 671.77 271.66 671.18 272.26 670.93C272.85 670.68 273.35 670.68 273.75 671.52C274.15 672.37 274.34 672.87 274.64 676C274.94 679.13 275.24 685.44 275.54 690.31C275.83 695.18 276.08 700.94 276.43 705.21C276.78 709.49 277.23 713.46 277.62 715.95C278.02 718.43 278.37 719.72 278.82 720.12C279.26 720.52 279.56 719.72 280.31 718.33C281.05 716.94 282.05 713.96 283.29 711.77C284.53 709.59 286.02 707.2 287.76 705.21C289.5 703.23 291.59 701.59 293.72 699.85C295.86 698.11 298.59 696.62 300.58 694.78C302.57 692.94 304.26 691.3 305.65 688.82C307.04 686.33 307.98 683.35 308.93 679.87C309.87 676.39 310.67 671.57 311.31 667.95C311.96 664.32 312.4 660.25 312.8 658.11C313.2 655.97 313.45 654.48 313.7 655.13C313.95 655.77 314.09 656.12 314.29 661.98C314.49 667.85 314.69 681.11 314.89 690.31C315.09 699.5 315.29 709.59 315.49 717.14C315.68 724.69 315.88 731.4 316.08 735.62C316.28 739.85 316.43 742.08 316.68 742.48C316.93 742.88 317.17 740.49 317.57 738.01C317.97 735.52 318.47 730.95 319.06 727.57C319.66 724.19 320.4 720.47 321.15 717.73C321.9 715 323.14 712.27 323.53 711.18" fill="none" stroke="#000" stroke-width="2.2" stroke-linejoin="round"/>
<path d="M46.21 698.65C48.2 698.85 54.51 699.25 58.13 699.85C61.76 700.44 65.14 701.14 67.97 702.23C70.8 703.32 73.04 704.77 75.13 706.41C77.21 708.05 78.9 710.33 80.49 712.07C82.08 713.81 83.48 715.75 84.67 716.84C85.86 717.93 86.66 718.68 87.65 718.63C88.64 718.58 89.54 717.78 90.63 716.54C91.72 715.3 92.92 713.06 94.21 711.18C95.5 709.29 96.79 706.85 98.38 705.21C99.97 703.57 101.36 702.38 103.75 701.34C106.13 700.29 108.62 699.5 112.69 698.95C116.77 698.41 122.13 698.26 128.19 698.06C134.26 697.86 141.26 697.86 149.06 697.76C156.86 697.66 168.53 697.46 175 697.46C181.47 697.46 183.85 697.56 187.89 697.76C191.92 697.96 196.53 698.16 199.22 698.65C201.9 699.15 202.69 699.65 203.99 700.74C205.28 701.83 206.07 702.98 206.97 705.21C207.86 707.45 208.66 710.43 209.35 714.16C210.05 717.88 210.59 722.85 211.14 727.57C211.69 732.29 212.18 737.76 212.63 742.48C213.08 747.2 213.48 752.86 213.82 755.89C214.17 758.93 214.42 760.66 214.72 760.66C215.02 760.66 215.27 758.93 215.61 755.89C215.96 752.86 216.36 747.2 216.81 742.48C217.25 737.76 217.7 732.04 218.3 727.57C218.89 723.1 219.59 718.98 220.38 715.65C221.18 712.32 221.92 709.73 223.07 707.6C224.21 705.46 225.55 704.07 227.24 702.83C228.93 701.59 230.57 700.74 233.2 700.14C235.84 699.55 239.17 699.4 243.04 699.25C246.92 699.1 253.13 698.9 256.46 699.25C259.79 699.6 261.23 700.24 263.02 701.34C264.8 702.43 266.05 703.67 267.19 705.81C268.33 707.95 269.08 710.68 269.87 714.16C270.67 717.63 271.31 722.45 271.96 726.68C272.61 730.9 273.2 736.02 273.75 739.5C274.29 742.98 274.84 746.55 275.24 747.55C275.64 748.54 275.74 747.8 276.13 745.46C276.53 743.12 277.08 737.86 277.62 733.53C278.17 729.21 278.67 723.5 279.41 719.52C280.16 715.55 280.95 712.37 282.1 709.68C283.24 707 284.58 704.96 286.27 703.42C287.96 701.88 290 701.14 292.23 700.44C294.47 699.75 297.4 699.35 299.68 699.25C301.97 699.15 304.41 699.25 305.95 699.85C307.49 700.44 308.13 701.19 308.93 702.83C309.72 704.47 310.22 705.81 310.72 709.68C311.21 713.56 311.56 719.87 311.91 726.08C312.26 732.29 312.5 739.99 312.8 746.95C313.1 753.91 313.4 761.61 313.7 767.82C313.99 774.03 314.34 781.24 314.59 784.22C314.84 787.2 314.99 787.94 315.19 785.71C315.39 783.47 315.54 778.25 315.78 770.8C316.03 763.35 316.33 749.93 316.68 740.99C317.03 732.04 317.37 723 317.87 717.14C318.37 711.27 318.96 708.39 319.66 705.81C320.35 703.23 321.35 702.53 322.04 701.64C322.74 700.74 323.53 700.64 323.83 700.44" fill="none" stroke="#0808a6" stroke-width="2.4" stroke-linejoin="round" stroke-dasharray="5.0 3.9"/>
<g transform="translate(13.9 800.3) rotate(-90)">
<text x="0" y="0" font-family='"Liberation Serif", serif' font-size="18.2" font-weight="bold" textLength="168" lengthAdjust="spacingAndGlyphs">Relative permeability</text>
<text x="171.3" y="0.3" font-family='"Liberation Serif", serif' font-size="11.8" font-weight="normal" stroke="#000" stroke-width="0.3">(</text>
<text x="176.3" y="0" font-family='"Liberation Serif", serif' font-size="19.5" font-weight="normal" textLength="10.6" lengthAdjust="spacingAndGlyphs" stroke="#000" stroke-width="0.4">&#956;</text>
<text x="186.2" y="5.6" font-family='"Liberation Sans", sans-serif' font-size="9.3" font-weight="bold" font-style="italic">r</text>
<text x="190.2" y="0.3" font-family='"Liberation Serif", serif' font-size="11.8" font-weight="normal" stroke="#000" stroke-width="0.3">)</text>
</g>
<line x1="55.5" y1="757.2" x2="80.8" y2="757.2" stroke="#000" stroke-width="2"/>
<text x="84.5" y="760.6" font-family='"Liberation Serif", serif' font-size="19.5" font-weight="normal" textLength="11" lengthAdjust="spacingAndGlyphs">&#956;</text>
<text x="94.9" y="767.1" font-family='"Liberation Sans", sans-serif' font-size="10.8" font-weight="bold" font-style="italic">r</text>
<text x="98.9" y="762.2" font-family='"Liberation Serif", serif' font-size="20" font-weight="normal" stroke="#000" stroke-width="0.15">[</text>
<text x="104.5" y="760.4" font-family='"Liberation Serif", serif' font-size="17.2" font-weight="bold" textLength="29.9" lengthAdjust="spacingAndGlyphs">real</text>
<text x="133.6" y="762.2" font-family='"Liberation Serif", serif' font-size="20" font-weight="normal" stroke="#000" stroke-width="0.15">]</text>
<path d="M55.3 787.2H60.8M64.6 787.2H69.9M73.4 787.2H78.9" stroke="#0808a6" stroke-width="2.3" fill="none"/>
<text x="84.5" y="790.6" font-family='"Liberation Serif", serif' font-size="19.5" font-weight="normal" textLength="11" lengthAdjust="spacingAndGlyphs">&#956;</text>
<text x="94.9" y="797.1" font-family='"Liberation Sans", sans-serif' font-size="10.8" font-weight="bold" font-style="italic">r</text>
<text x="98.9" y="792.2" font-family='"Liberation Serif", serif' font-size="20" font-weight="normal" stroke="#000" stroke-width="0.15">[</text>
<text x="105" y="790.4" font-family='"Liberation Serif", serif' font-size="17.2" font-weight="bold" textLength="28.7" lengthAdjust="spacingAndGlyphs">img</text>
<text x="132.7" y="792.2" font-family='"Liberation Serif", serif' font-size="20" font-weight="normal" stroke="#000" stroke-width="0.15">]</text>
<clipPath id="ce"><rect x="100" y="820" width="180" height="21.0"/></clipPath>
<text x="118" y="840.7" font-family='"Liberation Serif", serif' font-size="15.8" font-weight="bold" textLength="134.6" lengthAdjust="spacingAndGlyphs" clip-path="url(#ce)">Frequency (GHz)</text>
<rect x="150.2" y="841.0" width="3.3" height="3.9" rx="1.2" fill="#000"/>
<rect x="191.5" y="841.0" width="1.8" height="4.4" rx="0.6" fill="#000"/>
<path d="M209.3 842.3V845.4M246.6 842.3V845.4" stroke="#555" stroke-width="0.7" fill="none"/>
<text x="180.5" y="868.4" font-family='"Liberation Sans", sans-serif' font-size="13.7" font-weight="bold" text-anchor="middle">(e)</text>
<line x1="394.5" y1="590.9" x2="394.5" y2="801.3" stroke="#000" stroke-width="1"/>
<line x1="394" y1="800.8" x2="674.5" y2="800.8" stroke="#000" stroke-width="1"/>
<line x1="390" y1="591.4" x2="394.5" y2="591.4" stroke="#000" stroke-width="1"/>
<text x="387.3" y="595.53" font-family='"Liberation Sans", sans-serif' font-size="13.7" font-weight="bold" text-anchor="end">15.0</text>
<line x1="391.9" y1="600.12" x2="394.5" y2="600.12" stroke="#000" stroke-width="0.9"/>
<line x1="390" y1="608.85" x2="394.5" y2="608.85" stroke="#000" stroke-width="1"/>
<text x="387.3" y="612.98" font-family='"Liberation Sans", sans-serif' font-size="13.7" font-weight="bold" text-anchor="end">12.5</text>
<line x1="391.9" y1="617.57" x2="394.5" y2="617.57" stroke="#000" stroke-width="0.9"/>
<line x1="390" y1="626.3" x2="394.5" y2="626.3" stroke="#000" stroke-width="1"/>
<text x="387.3" y="630.43" font-family='"Liberation Sans", sans-serif' font-size="13.7" font-weight="bold" text-anchor="end">10.0</text>
<line x1="391.9" y1="635.02" x2="394.5" y2="635.02" stroke="#000" stroke-width="0.9"/>
<line x1="390" y1="643.75" x2="394.5" y2="643.75" stroke="#000" stroke-width="1"/>
<text x="387.3" y="647.88" font-family='"Liberation Sans", sans-serif' font-size="13.7" font-weight="bold" text-anchor="end">7.5</text>
<line x1="391.9" y1="652.48" x2="394.5" y2="652.48" stroke="#000" stroke-width="0.9"/>
<line x1="390" y1="661.2" x2="394.5" y2="661.2" stroke="#000" stroke-width="1"/>
<text x="387.3" y="665.33" font-family='"Liberation Sans", sans-serif' font-size="13.7" font-weight="bold" text-anchor="end">5.0</text>
<line x1="391.9" y1="669.92" x2="394.5" y2="669.92" stroke="#000" stroke-width="0.9"/>
<line x1="390" y1="678.65" x2="394.5" y2="678.65" stroke="#000" stroke-width="1"/>
<text x="387.3" y="682.78" font-family='"Liberation Sans", sans-serif' font-size="13.7" font-weight="bold" text-anchor="end">2.5</text>
<line x1="391.9" y1="687.38" x2="394.5" y2="687.38" stroke="#000" stroke-width="0.9"/>
<line x1="390" y1="696.1" x2="394.5" y2="696.1" stroke="#000" stroke-width="1"/>
<text x="387.3" y="700.23" font-family='"Liberation Sans", sans-serif' font-size="13.7" font-weight="bold" text-anchor="end">0.0</text>
<line x1="391.9" y1="704.82" x2="394.5" y2="704.82" stroke="#000" stroke-width="0.9"/>
<line x1="390" y1="713.55" x2="394.5" y2="713.55" stroke="#000" stroke-width="1"/>
<text x="387.3" y="717.68" font-family='"Liberation Sans", sans-serif' font-size="13.7" font-weight="bold" text-anchor="end">-2.5</text>
<line x1="391.9" y1="722.27" x2="394.5" y2="722.27" stroke="#000" stroke-width="0.9"/>
<line x1="390" y1="731" x2="394.5" y2="731" stroke="#000" stroke-width="1"/>
<text x="387.3" y="735.13" font-family='"Liberation Sans", sans-serif' font-size="13.7" font-weight="bold" text-anchor="end">-5.0</text>
<line x1="391.9" y1="739.72" x2="394.5" y2="739.72" stroke="#000" stroke-width="0.9"/>
<line x1="390" y1="748.45" x2="394.5" y2="748.45" stroke="#000" stroke-width="1"/>
<text x="387.3" y="752.58" font-family='"Liberation Sans", sans-serif' font-size="13.7" font-weight="bold" text-anchor="end">-7.5</text>
<line x1="391.9" y1="757.17" x2="394.5" y2="757.17" stroke="#000" stroke-width="0.9"/>
<line x1="390" y1="765.9" x2="394.5" y2="765.9" stroke="#000" stroke-width="1"/>
<text x="387.3" y="770.03" font-family='"Liberation Sans", sans-serif' font-size="13.7" font-weight="bold" text-anchor="end">-10.0</text>
<line x1="391.9" y1="774.62" x2="394.5" y2="774.62" stroke="#000" stroke-width="0.9"/>
<line x1="390" y1="783.35" x2="394.5" y2="783.35" stroke="#000" stroke-width="1"/>
<text x="387.3" y="787.48" font-family='"Liberation Sans", sans-serif' font-size="13.7" font-weight="bold" text-anchor="end">-12.5</text>
<line x1="391.9" y1="792.07" x2="394.5" y2="792.07" stroke="#000" stroke-width="0.9"/>
<line x1="390" y1="800.8" x2="394.5" y2="800.8" stroke="#000" stroke-width="1"/>
<text x="387.3" y="804.93" font-family='"Liberation Sans", sans-serif' font-size="13.7" font-weight="bold" text-anchor="end">-15.0</text>
<line x1="394.5" y1="800.8" x2="394.5" y2="805.3" stroke="#000" stroke-width="1"/>
<text x="394.5" y="822.6" font-family='"Liberation Sans", sans-serif' font-size="18.1" font-weight="bold" text-anchor="middle">7</text>
<line x1="417.79" y1="800.8" x2="417.79" y2="803.4" stroke="#000" stroke-width="0.9"/>
<line x1="441.08" y1="800.8" x2="441.08" y2="805.3" stroke="#000" stroke-width="1"/>
<text x="441.08" y="822.6" font-family='"Liberation Sans", sans-serif' font-size="18.1" font-weight="bold" text-anchor="middle">8</text>
<line x1="464.38" y1="800.8" x2="464.38" y2="803.4" stroke="#000" stroke-width="0.9"/>
<line x1="487.67" y1="800.8" x2="487.67" y2="805.3" stroke="#000" stroke-width="1"/>
<text x="487.67" y="822.6" font-family='"Liberation Sans", sans-serif' font-size="18.1" font-weight="bold" text-anchor="middle">9</text>
<line x1="510.96" y1="800.8" x2="510.96" y2="803.4" stroke="#000" stroke-width="0.9"/>
<line x1="534.25" y1="800.8" x2="534.25" y2="805.3" stroke="#000" stroke-width="1"/>
<text x="534.25" y="822.6" font-family='"Liberation Sans", sans-serif' font-size="18.1" font-weight="bold" text-anchor="middle">10</text>
<line x1="557.54" y1="800.8" x2="557.54" y2="803.4" stroke="#000" stroke-width="0.9"/>
<line x1="580.83" y1="800.8" x2="580.83" y2="805.3" stroke="#000" stroke-width="1"/>
<text x="580.83" y="822.6" font-family='"Liberation Sans", sans-serif' font-size="18.1" font-weight="bold" text-anchor="middle">11</text>
<line x1="604.12" y1="800.8" x2="604.12" y2="803.4" stroke="#000" stroke-width="0.9"/>
<line x1="627.42" y1="800.8" x2="627.42" y2="805.3" stroke="#000" stroke-width="1"/>
<text x="627.42" y="822.6" font-family='"Liberation Sans", sans-serif' font-size="18.1" font-weight="bold" text-anchor="middle">12</text>
<line x1="650.71" y1="800.8" x2="650.71" y2="803.4" stroke="#000" stroke-width="0.9"/>
<line x1="674" y1="800.8" x2="674" y2="805.3" stroke="#000" stroke-width="1"/>
<text x="674" y="822.6" font-family='"Liberation Sans", sans-serif' font-size="18.1" font-weight="bold" text-anchor="middle">13</text>
<path d="M394.56 647.67C396 647.28 400.27 646.33 403.2 645.29C406.13 644.25 409.36 642.95 412.15 641.41C414.93 639.87 417.61 637.99 419.9 636.05C422.18 634.11 424.12 631.87 425.86 629.79C427.6 627.7 429.04 625.17 430.33 623.53C431.62 621.89 432.67 620.69 433.61 619.95C434.56 619.2 435.25 618.91 436 619.05C436.74 619.2 437.34 619.5 438.08 620.84C438.83 622.18 439.62 624.37 440.47 627.1C441.31 629.84 442.16 633.51 443.15 637.24C444.15 640.97 445.29 645.44 446.43 649.46C447.57 653.49 448.82 657.76 450.01 661.39C451.2 665.02 452.39 668.49 453.59 671.23C454.78 673.96 456.02 676.2 457.16 677.79C458.31 679.38 459.5 680.17 460.44 680.77C461.39 681.36 461.98 681.66 462.83 681.36C463.67 681.06 464.47 680.32 465.51 678.98C466.55 677.64 467.55 675.5 469.09 673.31C470.63 671.13 472.52 668.39 474.75 665.86C476.99 663.33 479.62 660.64 482.5 658.11C485.39 655.57 488.72 652.99 492.04 650.66C495.37 648.32 498.65 646.43 502.48 644.1C506.3 641.76 512.26 638.38 515 636.64C517.74 634.9 516.9 635 518.94 633.66C520.99 632.32 524.71 629.84 527.29 628.59C529.88 627.35 532.36 626.46 534.45 626.21C536.53 625.96 537.92 626.36 539.81 627.1C541.7 627.85 543.89 629.19 545.78 630.68C547.66 632.17 549.55 634.61 551.14 636.05C552.73 637.49 554.12 638.78 555.32 639.33C556.51 639.87 557.4 639.63 558.3 639.33C559.19 639.03 559.99 637.79 560.68 637.54C561.38 637.29 561.97 636.89 562.47 637.84C562.97 638.78 563.27 640.17 563.66 643.2C564.06 646.23 564.46 651.65 564.86 656.02C565.25 660.39 565.6 665.46 566.05 669.44C566.49 673.41 566.94 677.29 567.54 679.87C568.13 682.46 568.68 683.8 569.63 684.94C570.57 686.08 571.61 686.48 573.2 686.73C574.79 686.98 577.18 686.78 579.17 686.43C581.15 686.08 583.44 685.69 585.13 684.64C586.82 683.6 588.01 682.11 589.3 680.17C590.59 678.23 591.69 675.7 592.88 673.02C594.07 670.33 595.26 666.9 596.46 664.07C597.65 661.24 598.94 658.21 600.03 656.02C601.13 653.84 602.12 652.1 603.02 650.95C603.91 649.81 604.61 649.17 605.4 649.17C606.2 649.17 606.79 649.76 607.79 650.95C608.78 652.15 610.12 654.63 611.36 656.32C612.61 658.01 613.95 659.9 615.24 661.09C616.53 662.28 617.97 662.98 619.11 663.48C620.26 663.97 621.35 663.57 622.1 664.07C622.84 664.57 623.14 664.82 623.59 666.46C624.03 668.1 624.33 670.93 624.78 673.91C625.23 676.89 625.72 681.46 626.27 684.34C626.82 687.23 627.36 689.66 628.06 691.2C628.75 692.74 629.25 693.24 630.44 693.59C631.64 693.93 633.42 693.59 635.21 693.29C637 692.99 639.49 692.39 641.18 691.8C642.86 691.2 644.31 690.95 645.35 689.71C646.39 688.47 646.79 686.98 647.44 684.34C648.08 681.71 648.68 677.14 649.22 673.91C649.77 670.68 650.22 667.05 650.72 664.97C651.21 662.88 651.71 661.49 652.21 661.39C652.7 661.29 653.1 662.53 653.7 664.37C654.29 666.21 655.04 670.18 655.78 672.42C656.53 674.66 657.42 676.89 658.17 677.79C658.91 678.68 659.61 678.33 660.26 677.79C660.9 677.24 661.55 675.3 662.04 674.51C662.54 673.71 662.89 672.62 663.24 673.02C663.58 673.41 663.83 674.51 664.13 676.89C664.43 679.28 664.73 684.1 665.03 687.33C665.32 690.56 665.52 694.08 665.92 696.27C666.32 698.46 666.76 699.95 667.41 700.44C668.06 700.94 668.95 699.8 669.8 699.25C670.64 698.7 671.68 697.66 672.48 697.16C673.27 696.67 674.22 696.42 674.57 696.27" fill="none" stroke="#000" stroke-width="2.2" stroke-linejoin="round"/>
<path d="M394.56 697.16C396.4 697.31 402.16 697.61 405.59 698.06C409.02 698.51 412.35 699.1 415.13 699.85C417.91 700.59 420.2 701.24 422.28 702.53C424.37 703.82 426.06 705.41 427.65 707.6C429.24 709.78 430.53 712.57 431.82 715.65C433.11 718.73 434.21 722.5 435.4 726.08C436.59 729.66 437.79 733.88 438.98 737.11C440.17 740.34 441.46 743.42 442.56 745.46C443.65 747.5 444.64 748.59 445.54 749.34C446.43 750.08 447.03 750.33 447.92 749.93C448.82 749.53 449.86 748.69 450.9 746.95C451.95 745.21 453.09 742.58 454.18 739.5C455.28 736.42 456.37 732.19 457.46 728.47C458.55 724.74 459.55 720.52 460.74 717.14C461.93 713.76 463.13 710.58 464.62 708.19C466.11 705.81 467.8 704.12 469.68 702.83C471.57 701.54 473.71 700.89 475.95 700.44C478.18 700 480.52 700.05 483.1 700.14C485.68 700.24 488.72 700.59 491.45 701.04C494.18 701.49 496.81 702.08 499.5 702.83C502.18 703.57 504.96 704.52 507.55 705.51C510.13 706.5 513.3 707.9 515 708.79C516.7 709.68 516.1 709.59 517.75 710.88C519.4 712.17 522.52 714.11 524.91 716.54C527.29 718.98 529.68 722.11 532.06 725.49C534.45 728.86 536.93 733.49 539.22 736.81C541.5 740.14 543.59 743.37 545.78 745.46C547.96 747.55 550.45 748.19 552.33 749.34C554.22 750.48 555.86 750.98 557.1 752.32C558.35 753.66 558.99 754.9 559.79 757.39C560.58 759.87 561.23 763.75 561.87 767.22C562.52 770.7 563.07 775.57 563.66 778.25C564.26 780.94 564.86 783.07 565.45 783.32C566.05 783.57 566.64 782.33 567.24 779.74C567.84 777.16 568.33 771.89 569.03 767.82C569.72 763.75 570.47 758.78 571.41 755.3C572.36 751.82 573.4 749.83 574.69 746.95C575.99 744.07 577.43 741.39 579.17 738.01C580.9 734.63 583.14 729.86 585.13 726.68C587.12 723.5 589.4 720.67 591.09 718.93C592.78 717.19 594.07 716.44 595.26 716.24C596.46 716.04 597.15 716.44 598.25 717.73C599.34 719.03 600.58 721.26 601.82 723.99C603.07 726.73 604.41 730.95 605.7 734.13C606.99 737.31 608.23 740.84 609.57 743.07C610.92 745.31 612.16 746.5 613.75 747.55C615.34 748.59 617.77 748.44 619.11 749.34C620.46 750.23 621 751.07 621.8 752.91C622.59 754.75 623.24 758.28 623.88 760.37C624.53 762.45 625.13 764.94 625.67 765.43C626.22 765.93 626.57 765.04 627.16 763.35C627.76 761.66 628.41 758.23 629.25 755.3C630.1 752.37 630.99 748.84 632.23 745.76C633.47 742.68 635.06 739.7 636.7 736.81C638.34 733.93 640.43 731.05 642.07 728.47C643.71 725.88 645.3 723.2 646.54 721.31C647.78 719.42 648.78 717.44 649.52 717.14C650.27 716.84 650.52 717.54 651.01 719.52C651.51 721.51 652.01 725.68 652.5 729.06C653 732.44 653.4 737.36 653.99 739.8C654.59 742.23 655.14 743.17 656.08 743.67C657.03 744.17 658.62 742.73 659.66 742.78C660.7 742.83 661.65 742.53 662.34 743.97C663.04 745.41 663.39 748.69 663.83 751.42C664.28 754.16 664.68 758.88 665.03 760.37C665.37 761.86 665.57 761.86 665.92 760.37C666.27 758.88 666.57 754.5 667.11 751.42C667.66 748.34 668.35 744.47 669.2 741.88C670.04 739.3 671.29 737.31 672.18 735.92C673.07 734.53 674.17 733.93 674.57 733.53" fill="none" stroke="#860086" stroke-width="2.4" stroke-linejoin="round" stroke-dasharray="5.0 3.9"/>
<g transform="translate(348.3 784.7) rotate(-90)">
<text x="0" y="0" font-family='"Liberation Serif", serif' font-size="18.2" font-weight="bold" textLength="127.8" lengthAdjust="spacingAndGlyphs">Refractive index</text>
<text x="133.8" y="0.3" font-family='"Liberation Serif", serif' font-size="12" font-weight="normal" stroke="#000" stroke-width="0.3">(</text>
<text x="139.6" y="0" font-family='"Liberation Serif", serif' font-size="19.5" font-weight="normal" font-style="italic">&#951;</text>
<text x="149.2" y="0.3" font-family='"Liberation Serif", serif' font-size="12" font-weight="normal" stroke="#000" stroke-width="0.3">)</text>
</g>
<line x1="402.3" y1="768.7" x2="425.9" y2="768.7" stroke="#000" stroke-width="2"/>
<text x="430.4" y="771.9" font-family='"Liberation Serif", serif' font-size="15" font-weight="normal" font-style="italic" textLength="8.6" lengthAdjust="spacingAndGlyphs">&#951;</text>
<text x="438.3" y="772.7" font-family='"Liberation Serif", serif' font-size="15.8" font-weight="normal" stroke="#000" stroke-width="0.15">[</text>
<text x="443.6" y="771.9" font-family='"Liberation Serif", serif' font-size="14.8" font-weight="bold" textLength="27.4" lengthAdjust="spacingAndGlyphs">real</text>
<text x="471.2" y="772.7" font-family='"Liberation Serif", serif' font-size="15.8" font-weight="normal" stroke="#000" stroke-width="0.15">]</text>
<path d="M402.5 790.9H407.8M411.7 790.9H416.5M420 790.9H425.7" stroke="#860086" stroke-width="2.2" fill="none"/>
<text x="430.4" y="793.8" font-family='"Liberation Serif", serif' font-size="15" font-weight="normal" font-style="italic" textLength="8.6" lengthAdjust="spacingAndGlyphs">&#951;</text>
<text x="438.3" y="794.6" font-family='"Liberation Serif", serif' font-size="15.8" font-weight="normal" stroke="#000" stroke-width="0.15">[</text>
<text x="443.6" y="793.8" font-family='"Liberation Serif", serif' font-size="14.8" font-weight="bold" textLength="26.7" lengthAdjust="spacingAndGlyphs">img</text>
<text x="470.5" y="794.6" font-family='"Liberation Serif", serif' font-size="15.8" font-weight="normal" stroke="#000" stroke-width="0.15">]</text>
<clipPath id="cf"><rect x="450" y="820" width="180" height="19.9"/></clipPath>
<text x="468" y="840.7" font-family='"Liberation Serif", serif' font-size="15.8" font-weight="bold" textLength="134" lengthAdjust="spacingAndGlyphs" clip-path="url(#cf)">Frequency (GHz)</text>
<rect x="500.5" y="839.9" width="1.8" height="4.4" fill="#000"/>
<rect x="541.7" y="839.9" width="1.7" height="4.2" fill="#000"/>
<path d="M559.0 840.3L557.8 844.3M597.2 840.3L598.6 844.4M543.9 840.3L542.9 844.2" stroke="#222" stroke-width="0.8" fill="none"/>
<text x="539" y="868.4" font-family='"Liberation Sans", sans-serif' font-size="13.7" font-weight="bold" text-anchor="middle">(f)</text>
</svg></body></html>
